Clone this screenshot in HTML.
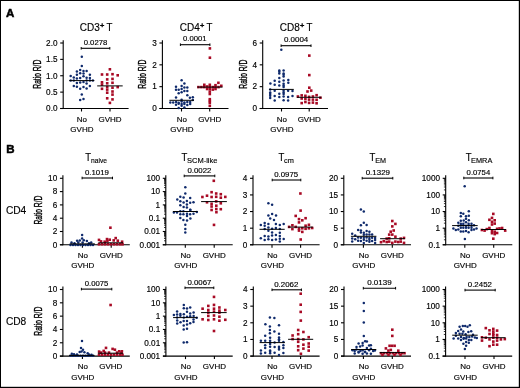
<!DOCTYPE html>
<html><head><meta charset="utf-8"><style>
html,body{margin:0;padding:0;background:#fff;}
#f{position:relative;width:520px;height:388px;overflow:hidden;}
svg{position:absolute;left:0;top:0;font-family:"Liberation Sans", sans-serif;will-change:transform;}
text{stroke:#000;stroke-width:0.15px;}
</style></head><body><div id="f">
<svg width="520" height="388" viewBox="0 0 520 388" fill="#000">
<rect x="0" y="0" width="520" height="388" fill="#fff"/>
<rect x="0" y="0" width="520" height="1" fill="#000"/>
<rect x="0" y="0" width="1" height="388" fill="#000"/>
<rect x="518.8" y="0" width="1.2" height="388" fill="#000"/>
<rect x="0" y="386.8" width="520" height="1.2" fill="#000"/>
<line x1="63.2" y1="40.2" x2="63.2" y2="109.0" stroke="#000" stroke-width="1.1"/>
<line x1="60.2" y1="108.5" x2="128.6" y2="108.5" stroke="#000" stroke-width="1.1"/>
<line x1="60.2" y1="108.5" x2="63.2" y2="108.5" stroke="#000" stroke-width="1.1"/>
<text x="57.5" y="111.32" font-size="8.2" text-anchor="end">0.0</text>
<line x1="60.2" y1="92.125" x2="63.2" y2="92.125" stroke="#000" stroke-width="1.1"/>
<text x="57.5" y="94.945" font-size="8.2" text-anchor="end">0.5</text>
<line x1="60.2" y1="75.75" x2="63.2" y2="75.75" stroke="#000" stroke-width="1.1"/>
<text x="57.5" y="78.57" font-size="8.2" text-anchor="end">1.0</text>
<line x1="60.2" y1="59.375" x2="63.2" y2="59.375" stroke="#000" stroke-width="1.1"/>
<text x="57.5" y="62.195" font-size="8.2" text-anchor="end">1.5</text>
<line x1="60.2" y1="43.0" x2="63.2" y2="43.0" stroke="#000" stroke-width="1.1"/>
<text x="57.5" y="45.82" font-size="8.2" text-anchor="end">2.0</text>
<line x1="81.5" y1="108.5" x2="81.5" y2="111.5" stroke="#000" stroke-width="1.1"/>
<line x1="110" y1="108.5" x2="110" y2="111.5" stroke="#000" stroke-width="1.1"/>
<text x="81.9" y="121.8" font-size="8" text-anchor="middle">No</text>
<text x="81.9" y="131.9" font-size="8" text-anchor="middle" textLength="23.1" lengthAdjust="spacingAndGlyphs">GVHD</text>
<text x="110" y="121.8" font-size="8" text-anchor="middle" textLength="23.1" lengthAdjust="spacingAndGlyphs">GVHD</text>
<line x1="81.2" y1="48.3" x2="109.8" y2="48.3" stroke="#000" stroke-width="1.1"/>
<line x1="81.2" y1="47.0" x2="81.2" y2="49.599999999999994" stroke="#000" stroke-width="1"/>
<line x1="109.8" y1="47.0" x2="109.8" y2="49.599999999999994" stroke="#000" stroke-width="1"/>
<text x="83.7" y="45.0" font-size="7.4" textLength="23.6" lengthAdjust="spacingAndGlyphs">0.0278</text>
<text x="79.8" y="30.5" font-size="10.0" textLength="20.0" lengthAdjust="spacingAndGlyphs">CD3</text><text x="100.1" y="28.1" font-size="7.4" style="stroke-width:0.45px">+</text><text x="106.4" y="30.5" font-size="10.3" textLength="5.9" lengthAdjust="spacingAndGlyphs">T</text>
<text transform="translate(40.5,74.2) rotate(-90)" font-size="10" text-anchor="middle" textLength="29" lengthAdjust="spacingAndGlyphs" style="stroke-width:0.35px">Ratio R/D</text>
<circle cx="81.8" cy="56.7" r="1.25" fill="#0f2a6c"/>
<circle cx="81.8" cy="66.1" r="1.25" fill="#0f2a6c"/>
<circle cx="80.2" cy="69.9" r="1.25" fill="#0f2a6c"/>
<circle cx="83.5" cy="70.9" r="1.25" fill="#0f2a6c"/>
<circle cx="86.6" cy="70.9" r="1.25" fill="#0f2a6c"/>
<circle cx="76.9" cy="71.6" r="1.25" fill="#0f2a6c"/>
<circle cx="80.2" cy="73.3" r="1.25" fill="#0f2a6c"/>
<circle cx="83.5" cy="73.6" r="1.25" fill="#0f2a6c"/>
<circle cx="76.9" cy="74.7" r="1.25" fill="#0f2a6c"/>
<circle cx="89.9" cy="74.7" r="1.25" fill="#0f2a6c"/>
<circle cx="70.7" cy="75.9" r="1.25" fill="#0f2a6c"/>
<circle cx="83.5" cy="76.3" r="1.25" fill="#0f2a6c"/>
<circle cx="73.8" cy="77.6" r="1.25" fill="#0f2a6c"/>
<circle cx="76.9" cy="78.6" r="1.25" fill="#0f2a6c"/>
<circle cx="80.2" cy="78" r="1.25" fill="#0f2a6c"/>
<circle cx="86.6" cy="77.8" r="1.25" fill="#0f2a6c"/>
<circle cx="89.9" cy="78" r="1.25" fill="#0f2a6c"/>
<circle cx="70.7" cy="80.5" r="1.25" fill="#0f2a6c"/>
<circle cx="73.8" cy="80.5" r="1.25" fill="#0f2a6c"/>
<circle cx="86.6" cy="80.5" r="1.25" fill="#0f2a6c"/>
<circle cx="89.9" cy="80.5" r="1.25" fill="#0f2a6c"/>
<circle cx="92.9" cy="80.5" r="1.25" fill="#0f2a6c"/>
<circle cx="76.9" cy="83" r="1.25" fill="#0f2a6c"/>
<circle cx="80.2" cy="82.6" r="1.25" fill="#0f2a6c"/>
<circle cx="83.5" cy="82" r="1.25" fill="#0f2a6c"/>
<circle cx="86.6" cy="83.6" r="1.25" fill="#0f2a6c"/>
<circle cx="73.8" cy="86" r="1.25" fill="#0f2a6c"/>
<circle cx="76.9" cy="86.7" r="1.25" fill="#0f2a6c"/>
<circle cx="80.2" cy="88.7" r="1.25" fill="#0f2a6c"/>
<circle cx="83.5" cy="87" r="1.25" fill="#0f2a6c"/>
<circle cx="86.6" cy="88.4" r="1.25" fill="#0f2a6c"/>
<circle cx="89.9" cy="86.1" r="1.25" fill="#0f2a6c"/>
<circle cx="81.8" cy="94.5" r="1.25" fill="#0f2a6c"/>
<circle cx="80.2" cy="99.9" r="1.25" fill="#0f2a6c"/>
<circle cx="83.5" cy="99" r="1.25" fill="#0f2a6c"/>
<rect x="108.60000000000001" y="68.0" width="2.6" height="2.6" fill="#a80a25"/>
<rect x="100.7" y="73.2" width="2.6" height="2.6" fill="#a80a25"/>
<rect x="105.9" y="73.2" width="2.6" height="2.6" fill="#a80a25"/>
<rect x="111.2" y="72.9" width="2.6" height="2.6" fill="#a80a25"/>
<rect x="116.4" y="74.0" width="2.6" height="2.6" fill="#a80a25"/>
<rect x="105.9" y="78.10000000000001" width="2.6" height="2.6" fill="#a80a25"/>
<rect x="111.2" y="77.60000000000001" width="2.6" height="2.6" fill="#a80a25"/>
<rect x="100.7" y="81.0" width="2.6" height="2.6" fill="#a80a25"/>
<rect x="105.9" y="82.0" width="2.6" height="2.6" fill="#a80a25"/>
<rect x="111.2" y="81.5" width="2.6" height="2.6" fill="#a80a25"/>
<rect x="100.7" y="83.3" width="2.6" height="2.6" fill="#a80a25"/>
<rect x="105.9" y="85.60000000000001" width="2.6" height="2.6" fill="#a80a25"/>
<rect x="111.2" y="86.4" width="2.6" height="2.6" fill="#a80a25"/>
<rect x="116.4" y="85.8" width="2.6" height="2.6" fill="#a80a25"/>
<rect x="100.7" y="87.5" width="2.6" height="2.6" fill="#a80a25"/>
<rect x="105.9" y="88.3" width="2.6" height="2.6" fill="#a80a25"/>
<rect x="105.9" y="91.4" width="2.6" height="2.6" fill="#a80a25"/>
<rect x="111.2" y="90.2" width="2.6" height="2.6" fill="#a80a25"/>
<rect x="111.2" y="93.3" width="2.6" height="2.6" fill="#a80a25"/>
<rect x="105.9" y="97.0" width="2.6" height="2.6" fill="#a80a25"/>
<rect x="111.2" y="98.10000000000001" width="2.6" height="2.6" fill="#a80a25"/>
<rect x="108.60000000000001" y="101.60000000000001" width="2.6" height="2.6" fill="#a80a25"/>
<line x1="69.2" y1="80.6" x2="94.3" y2="80.6" stroke="#000" stroke-width="1.0"/>
<line x1="97.2" y1="85.9" x2="122.7" y2="85.9" stroke="#000" stroke-width="1.0"/>
<line x1="162.4" y1="40.2" x2="162.4" y2="109.0" stroke="#000" stroke-width="1.1"/>
<line x1="159.4" y1="108.5" x2="228.5" y2="108.5" stroke="#000" stroke-width="1.1"/>
<line x1="159.4" y1="108.5" x2="162.4" y2="108.5" stroke="#000" stroke-width="1.1"/>
<text x="156.70000000000002" y="111.32" font-size="8.2" text-anchor="end">0</text>
<line x1="159.4" y1="86.66666666666667" x2="162.4" y2="86.66666666666667" stroke="#000" stroke-width="1.1"/>
<text x="156.70000000000002" y="89.48666666666666" font-size="8.2" text-anchor="end">1</text>
<line x1="159.4" y1="64.83333333333334" x2="162.4" y2="64.83333333333334" stroke="#000" stroke-width="1.1"/>
<text x="156.70000000000002" y="67.65333333333334" font-size="8.2" text-anchor="end">2</text>
<line x1="159.4" y1="43.0" x2="162.4" y2="43.0" stroke="#000" stroke-width="1.1"/>
<text x="156.70000000000002" y="45.82" font-size="8.2" text-anchor="end">3</text>
<line x1="181.5" y1="108.5" x2="181.5" y2="111.5" stroke="#000" stroke-width="1.1"/>
<line x1="209.7" y1="108.5" x2="209.7" y2="111.5" stroke="#000" stroke-width="1.1"/>
<text x="181.9" y="121.8" font-size="8" text-anchor="middle">No</text>
<text x="181.9" y="131.9" font-size="8" text-anchor="middle" textLength="23.1" lengthAdjust="spacingAndGlyphs">GVHD</text>
<text x="209.7" y="121.8" font-size="8" text-anchor="middle" textLength="23.1" lengthAdjust="spacingAndGlyphs">GVHD</text>
<line x1="180.4" y1="44.7" x2="209.9" y2="44.7" stroke="#000" stroke-width="1.1"/>
<line x1="180.4" y1="43.400000000000006" x2="180.4" y2="46.0" stroke="#000" stroke-width="1"/>
<line x1="209.9" y1="43.400000000000006" x2="209.9" y2="46.0" stroke="#000" stroke-width="1"/>
<text x="183.1" y="41.400000000000006" font-size="7.4" textLength="23.5" lengthAdjust="spacingAndGlyphs">0.0001</text>
<text x="179.8" y="30.5" font-size="10.0" textLength="20.0" lengthAdjust="spacingAndGlyphs">CD4</text><text x="200.1" y="28.1" font-size="7.4" style="stroke-width:0.45px">+</text><text x="206.4" y="30.5" font-size="10.3" textLength="5.9" lengthAdjust="spacingAndGlyphs">T</text>
<text transform="translate(146.1,74.2) rotate(-90)" font-size="10" text-anchor="middle" textLength="29" lengthAdjust="spacingAndGlyphs" style="stroke-width:0.35px">Ratio R/D</text>
<circle cx="181.6" cy="80.3" r="1.25" fill="#0f2a6c"/>
<circle cx="184.4" cy="83.5" r="1.25" fill="#0f2a6c"/>
<circle cx="176" cy="86.8" r="1.25" fill="#0f2a6c"/>
<circle cx="181.6" cy="86.1" r="1.25" fill="#0f2a6c"/>
<circle cx="184.4" cy="87.4" r="1.25" fill="#0f2a6c"/>
<circle cx="187.3" cy="87.5" r="1.25" fill="#0f2a6c"/>
<circle cx="176" cy="89.8" r="1.25" fill="#0f2a6c"/>
<circle cx="178.7" cy="89.8" r="1.25" fill="#0f2a6c"/>
<circle cx="181.6" cy="89" r="1.25" fill="#0f2a6c"/>
<circle cx="184.4" cy="91" r="1.25" fill="#0f2a6c"/>
<circle cx="187.3" cy="91" r="1.25" fill="#0f2a6c"/>
<circle cx="178.7" cy="93.3" r="1.25" fill="#0f2a6c"/>
<circle cx="181.6" cy="92.2" r="1.25" fill="#0f2a6c"/>
<circle cx="187.3" cy="95.3" r="1.25" fill="#0f2a6c"/>
<circle cx="176" cy="97.5" r="1.25" fill="#0f2a6c"/>
<circle cx="189.9" cy="97.8" r="1.25" fill="#0f2a6c"/>
<circle cx="192.8" cy="97.3" r="1.25" fill="#0f2a6c"/>
<circle cx="181.6" cy="99.8" r="1.25" fill="#0f2a6c"/>
<circle cx="192.8" cy="100" r="1.25" fill="#0f2a6c"/>
<circle cx="170.3" cy="102.4" r="1.25" fill="#0f2a6c"/>
<circle cx="173.2" cy="102.4" r="1.25" fill="#0f2a6c"/>
<circle cx="176.1" cy="102.1" r="1.25" fill="#0f2a6c"/>
<circle cx="178.7" cy="102.7" r="1.25" fill="#0f2a6c"/>
<circle cx="181.6" cy="101.5" r="1.25" fill="#0f2a6c"/>
<circle cx="184.4" cy="102.4" r="1.25" fill="#0f2a6c"/>
<circle cx="187.3" cy="102.1" r="1.25" fill="#0f2a6c"/>
<circle cx="190.2" cy="102.1" r="1.25" fill="#0f2a6c"/>
<circle cx="176" cy="104.7" r="1.25" fill="#0f2a6c"/>
<circle cx="178.7" cy="103.8" r="1.25" fill="#0f2a6c"/>
<circle cx="181.6" cy="104.1" r="1.25" fill="#0f2a6c"/>
<circle cx="184.4" cy="104.1" r="1.25" fill="#0f2a6c"/>
<circle cx="187.3" cy="105" r="1.25" fill="#0f2a6c"/>
<circle cx="190.2" cy="104.1" r="1.25" fill="#0f2a6c"/>
<circle cx="181.6" cy="105.8" r="1.25" fill="#0f2a6c"/>
<circle cx="178.7" cy="107.9" r="1.25" fill="#0f2a6c"/>
<circle cx="184.4" cy="107.6" r="1.25" fill="#0f2a6c"/>
<rect x="208.6" y="47.1" width="2.6" height="2.6" fill="#a80a25"/>
<rect x="208.6" y="56.400000000000006" width="2.6" height="2.6" fill="#a80a25"/>
<rect x="217.1" y="81.5" width="2.6" height="2.6" fill="#a80a25"/>
<rect x="203.0" y="83.5" width="2.6" height="2.6" fill="#a80a25"/>
<rect x="208.5" y="83.5" width="2.6" height="2.6" fill="#a80a25"/>
<rect x="214.2" y="83.9" width="2.6" height="2.6" fill="#a80a25"/>
<rect x="220.0" y="84.5" width="2.6" height="2.6" fill="#a80a25"/>
<rect x="197.1" y="85.8" width="2.6" height="2.6" fill="#a80a25"/>
<rect x="200.1" y="85.8" width="2.6" height="2.6" fill="#a80a25"/>
<rect x="203.0" y="85.8" width="2.6" height="2.6" fill="#a80a25"/>
<rect x="205.79999999999998" y="85.2" width="2.6" height="2.6" fill="#a80a25"/>
<rect x="208.5" y="85.8" width="2.6" height="2.6" fill="#a80a25"/>
<rect x="211.5" y="85.8" width="2.6" height="2.6" fill="#a80a25"/>
<rect x="214.2" y="85.8" width="2.6" height="2.6" fill="#a80a25"/>
<rect x="217.2" y="85.8" width="2.6" height="2.6" fill="#a80a25"/>
<rect x="205.79999999999998" y="87.7" width="2.6" height="2.6" fill="#a80a25"/>
<rect x="211.5" y="88.3" width="2.6" height="2.6" fill="#a80a25"/>
<rect x="214.2" y="87.7" width="2.6" height="2.6" fill="#a80a25"/>
<rect x="208.5" y="87.7" width="2.6" height="2.6" fill="#a80a25"/>
<rect x="208.5" y="90.3" width="2.6" height="2.6" fill="#a80a25"/>
<rect x="208.5" y="92.7" width="2.6" height="2.6" fill="#a80a25"/>
<rect x="208.5" y="97.9" width="2.6" height="2.6" fill="#a80a25"/>
<rect x="208.5" y="99.7" width="2.6" height="2.6" fill="#a80a25"/>
<rect x="208.5" y="101.4" width="2.6" height="2.6" fill="#a80a25"/>
<rect x="208.5" y="104.5" width="2.6" height="2.6" fill="#a80a25"/>
<line x1="169.4" y1="100.3" x2="194" y2="100.3" stroke="#000" stroke-width="1.0"/>
<line x1="197.5" y1="87.1" x2="222.5" y2="87.1" stroke="#000" stroke-width="1.0"/>
<line x1="262.7" y1="40.2" x2="262.7" y2="109.0" stroke="#000" stroke-width="1.1"/>
<line x1="259.7" y1="108.5" x2="328" y2="108.5" stroke="#000" stroke-width="1.1"/>
<line x1="259.7" y1="108.5" x2="262.7" y2="108.5" stroke="#000" stroke-width="1.1"/>
<text x="257.0" y="111.32" font-size="8.2" text-anchor="end">0</text>
<line x1="259.7" y1="86.66666666666667" x2="262.7" y2="86.66666666666667" stroke="#000" stroke-width="1.1"/>
<text x="257.0" y="89.48666666666666" font-size="8.2" text-anchor="end">2</text>
<line x1="259.7" y1="64.83333333333334" x2="262.7" y2="64.83333333333334" stroke="#000" stroke-width="1.1"/>
<text x="257.0" y="67.65333333333334" font-size="8.2" text-anchor="end">4</text>
<line x1="259.7" y1="43.0" x2="262.7" y2="43.0" stroke="#000" stroke-width="1.1"/>
<text x="257.0" y="45.82" font-size="8.2" text-anchor="end">6</text>
<line x1="281.5" y1="108.5" x2="281.5" y2="111.5" stroke="#000" stroke-width="1.1"/>
<line x1="309.2" y1="108.5" x2="309.2" y2="111.5" stroke="#000" stroke-width="1.1"/>
<text x="281.9" y="121.8" font-size="8" text-anchor="middle">No</text>
<text x="281.9" y="131.9" font-size="8" text-anchor="middle" textLength="23.1" lengthAdjust="spacingAndGlyphs">GVHD</text>
<text x="309.2" y="121.8" font-size="8" text-anchor="middle" textLength="23.1" lengthAdjust="spacingAndGlyphs">GVHD</text>
<line x1="281.1" y1="45.7" x2="311.0" y2="45.7" stroke="#000" stroke-width="1.1"/>
<line x1="281.1" y1="44.400000000000006" x2="281.1" y2="47.0" stroke="#000" stroke-width="1"/>
<line x1="311.0" y1="44.400000000000006" x2="311.0" y2="47.0" stroke="#000" stroke-width="1"/>
<text x="283.9" y="42.400000000000006" font-size="7.4" textLength="24.4" lengthAdjust="spacingAndGlyphs">0.0004</text>
<text x="279.8" y="30.5" font-size="10.0" textLength="20.0" lengthAdjust="spacingAndGlyphs">CD8</text><text x="300.1" y="28.1" font-size="7.4" style="stroke-width:0.45px">+</text><text x="306.4" y="30.5" font-size="10.3" textLength="5.9" lengthAdjust="spacingAndGlyphs">T</text>
<text transform="translate(246.6,74.2) rotate(-90)" font-size="10" text-anchor="middle" textLength="29" lengthAdjust="spacingAndGlyphs" style="stroke-width:0.35px">Ratio R/D</text>
<circle cx="281.3" cy="49.7" r="1.25" fill="#0f2a6c"/>
<circle cx="279.3" cy="70.4" r="1.25" fill="#0f2a6c"/>
<circle cx="279.3" cy="71.7" r="1.25" fill="#0f2a6c"/>
<circle cx="279.3" cy="73.4" r="1.25" fill="#0f2a6c"/>
<circle cx="283.6" cy="70.4" r="1.25" fill="#0f2a6c"/>
<circle cx="283.6" cy="73.4" r="1.25" fill="#0f2a6c"/>
<circle cx="283.6" cy="74.7" r="1.25" fill="#0f2a6c"/>
<circle cx="283.6" cy="76.4" r="1.25" fill="#0f2a6c"/>
<circle cx="279.3" cy="78.1" r="1.25" fill="#0f2a6c"/>
<circle cx="274.7" cy="80.7" r="1.25" fill="#0f2a6c"/>
<circle cx="279.3" cy="81.8" r="1.25" fill="#0f2a6c"/>
<circle cx="283.6" cy="80.4" r="1.25" fill="#0f2a6c"/>
<circle cx="288.3" cy="80.1" r="1.25" fill="#0f2a6c"/>
<circle cx="270.4" cy="83.4" r="1.25" fill="#0f2a6c"/>
<circle cx="274.7" cy="84.8" r="1.25" fill="#0f2a6c"/>
<circle cx="279.3" cy="85.4" r="1.25" fill="#0f2a6c"/>
<circle cx="283.6" cy="83.8" r="1.25" fill="#0f2a6c"/>
<circle cx="283.6" cy="85.4" r="1.25" fill="#0f2a6c"/>
<circle cx="283.6" cy="87.1" r="1.25" fill="#0f2a6c"/>
<circle cx="288.3" cy="82.8" r="1.25" fill="#0f2a6c"/>
<circle cx="270.2" cy="89.4" r="1.25" fill="#0f2a6c"/>
<circle cx="274.7" cy="90.7" r="1.25" fill="#0f2a6c"/>
<circle cx="283.6" cy="90.7" r="1.25" fill="#0f2a6c"/>
<circle cx="288.1" cy="90.7" r="1.25" fill="#0f2a6c"/>
<circle cx="292.5" cy="91" r="1.25" fill="#0f2a6c"/>
<circle cx="270.2" cy="92.4" r="1.25" fill="#0f2a6c"/>
<circle cx="270.2" cy="94.1" r="1.25" fill="#0f2a6c"/>
<circle cx="270.2" cy="95.7" r="1.25" fill="#0f2a6c"/>
<circle cx="270.2" cy="98.1" r="1.25" fill="#0f2a6c"/>
<circle cx="279.3" cy="93.7" r="1.25" fill="#0f2a6c"/>
<circle cx="283.6" cy="92.4" r="1.25" fill="#0f2a6c"/>
<circle cx="283.6" cy="94.1" r="1.25" fill="#0f2a6c"/>
<circle cx="274.7" cy="96.1" r="1.25" fill="#0f2a6c"/>
<circle cx="279.3" cy="97.1" r="1.25" fill="#0f2a6c"/>
<circle cx="283.6" cy="96.4" r="1.25" fill="#0f2a6c"/>
<circle cx="288.1" cy="97.1" r="1.25" fill="#0f2a6c"/>
<circle cx="292.5" cy="96.1" r="1.25" fill="#0f2a6c"/>
<circle cx="274.7" cy="100.6" r="1.25" fill="#0f2a6c"/>
<circle cx="283.6" cy="100.2" r="1.25" fill="#0f2a6c"/>
<circle cx="288.1" cy="100.4" r="1.25" fill="#0f2a6c"/>
<rect x="308.0" y="54.300000000000004" width="2.6" height="2.6" fill="#a80a25"/>
<rect x="308.0" y="73.8" width="2.6" height="2.6" fill="#a80a25"/>
<rect x="308.0" y="86.4" width="2.6" height="2.6" fill="#a80a25"/>
<rect x="306.2" y="90.2" width="2.6" height="2.6" fill="#a80a25"/>
<rect x="309.9" y="89.3" width="2.6" height="2.6" fill="#a80a25"/>
<rect x="296.59999999999997" y="95.2" width="2.6" height="2.6" fill="#a80a25"/>
<rect x="300.4" y="94.10000000000001" width="2.6" height="2.6" fill="#a80a25"/>
<rect x="300.4" y="97.2" width="2.6" height="2.6" fill="#a80a25"/>
<rect x="304.09999999999997" y="94.5" width="2.6" height="2.6" fill="#a80a25"/>
<rect x="304.09999999999997" y="97.60000000000001" width="2.6" height="2.6" fill="#a80a25"/>
<rect x="307.8" y="95.60000000000001" width="2.6" height="2.6" fill="#a80a25"/>
<rect x="307.8" y="98.3" width="2.6" height="2.6" fill="#a80a25"/>
<rect x="311.59999999999997" y="95.2" width="2.6" height="2.6" fill="#a80a25"/>
<rect x="311.59999999999997" y="98.3" width="2.6" height="2.6" fill="#a80a25"/>
<rect x="315.3" y="93.9" width="2.6" height="2.6" fill="#a80a25"/>
<rect x="315.3" y="98.5" width="2.6" height="2.6" fill="#a80a25"/>
<rect x="319.09999999999997" y="96.4" width="2.6" height="2.6" fill="#a80a25"/>
<rect x="300.4" y="101.8" width="2.6" height="2.6" fill="#a80a25"/>
<rect x="304.09999999999997" y="100.7" width="2.6" height="2.6" fill="#a80a25"/>
<rect x="307.8" y="101.60000000000001" width="2.6" height="2.6" fill="#a80a25"/>
<rect x="311.59999999999997" y="101.3" width="2.6" height="2.6" fill="#a80a25"/>
<rect x="315.3" y="102.0" width="2.6" height="2.6" fill="#a80a25"/>
<line x1="269.2" y1="89.4" x2="293.8" y2="89.4" stroke="#000" stroke-width="1.0"/>
<line x1="296.9" y1="97.3" x2="321.4" y2="97.3" stroke="#000" stroke-width="1.0"/>
<line x1="62.9" y1="175.3" x2="62.9" y2="245.3" stroke="#000" stroke-width="1.1"/>
<line x1="59.9" y1="244.8" x2="129.8" y2="244.8" stroke="#000" stroke-width="1.1"/>
<line x1="59.9" y1="244.8" x2="62.9" y2="244.8" stroke="#000" stroke-width="1.1"/>
<text x="57.199999999999996" y="247.62" font-size="8.2" text-anchor="end">0</text>
<line x1="59.9" y1="231.5" x2="62.9" y2="231.5" stroke="#000" stroke-width="1.1"/>
<text x="57.199999999999996" y="234.32" font-size="8.2" text-anchor="end">2</text>
<line x1="59.9" y1="218.20000000000002" x2="62.9" y2="218.20000000000002" stroke="#000" stroke-width="1.1"/>
<text x="57.199999999999996" y="221.02" font-size="8.2" text-anchor="end">4</text>
<line x1="59.9" y1="204.9" x2="62.9" y2="204.9" stroke="#000" stroke-width="1.1"/>
<text x="57.199999999999996" y="207.72" font-size="8.2" text-anchor="end">6</text>
<line x1="59.9" y1="191.60000000000002" x2="62.9" y2="191.60000000000002" stroke="#000" stroke-width="1.1"/>
<text x="57.199999999999996" y="194.42000000000002" font-size="8.2" text-anchor="end">8</text>
<line x1="59.9" y1="178.3" x2="62.9" y2="178.3" stroke="#000" stroke-width="1.1"/>
<text x="57.199999999999996" y="181.12" font-size="8.2" text-anchor="end">10</text>
<line x1="82.4" y1="244.8" x2="82.4" y2="247.8" stroke="#000" stroke-width="1.1"/>
<line x1="111.2" y1="244.8" x2="111.2" y2="247.8" stroke="#000" stroke-width="1.1"/>
<text x="82.80000000000001" y="258.1" font-size="8" text-anchor="middle">No</text>
<text x="82.80000000000001" y="268.2" font-size="8" text-anchor="middle" textLength="23.1" lengthAdjust="spacingAndGlyphs">GVHD</text>
<text x="111.2" y="258.1" font-size="8" text-anchor="middle" textLength="23.1" lengthAdjust="spacingAndGlyphs">GVHD</text>
<line x1="82.1" y1="178.0" x2="112.5" y2="178.0" stroke="#000" stroke-width="1.1"/>
<line x1="82.1" y1="176.7" x2="82.1" y2="179.3" stroke="#000" stroke-width="1"/>
<line x1="112.5" y1="176.7" x2="112.5" y2="179.3" stroke="#000" stroke-width="1"/>
<text x="84.9" y="174.7" font-size="7.4" textLength="24.0" lengthAdjust="spacingAndGlyphs">0.1019</text>
<text x="85.2" y="160.7" font-size="10.0" textLength="5.8" lengthAdjust="spacingAndGlyphs">T</text><text x="91.0" y="162.7" font-size="7.6" textLength="16.0" lengthAdjust="spacingAndGlyphs">naive</text>
<text transform="translate(42.4,210.1) rotate(-90)" font-size="10" text-anchor="middle" textLength="29" lengthAdjust="spacingAndGlyphs" style="stroke-width:0.35px">Ratio R/D</text>
<circle cx="82.1" cy="234.9" r="1.25" fill="#0f2a6c"/>
<circle cx="82.1" cy="238.6" r="1.25" fill="#0f2a6c"/>
<circle cx="77.1" cy="240.8" r="1.25" fill="#0f2a6c"/>
<circle cx="79.8" cy="240.5" r="1.25" fill="#0f2a6c"/>
<circle cx="83.8" cy="240.2" r="1.25" fill="#0f2a6c"/>
<circle cx="86.9" cy="241.1" r="1.25" fill="#0f2a6c"/>
<circle cx="91.2" cy="242.6" r="1.25" fill="#0f2a6c"/>
<circle cx="71.5" cy="242.6" r="1.25" fill="#0f2a6c"/>
<circle cx="74.5" cy="243.2" r="1.25" fill="#0f2a6c"/>
<circle cx="78.3" cy="242.5" r="1.25" fill="#0f2a6c"/>
<circle cx="82.6" cy="242.5" r="1.25" fill="#0f2a6c"/>
<circle cx="89" cy="243.2" r="1.25" fill="#0f2a6c"/>
<circle cx="70.5" cy="245.0" r="1.25" fill="#0f2a6c"/>
<circle cx="73" cy="245.0" r="1.25" fill="#0f2a6c"/>
<circle cx="75.5" cy="245.0" r="1.25" fill="#0f2a6c"/>
<circle cx="78" cy="245.0" r="1.25" fill="#0f2a6c"/>
<circle cx="80.5" cy="245.0" r="1.25" fill="#0f2a6c"/>
<circle cx="83" cy="245.0" r="1.25" fill="#0f2a6c"/>
<circle cx="85.5" cy="245.0" r="1.25" fill="#0f2a6c"/>
<circle cx="88" cy="245.0" r="1.25" fill="#0f2a6c"/>
<circle cx="90.5" cy="245.0" r="1.25" fill="#0f2a6c"/>
<circle cx="93" cy="245.0" r="1.25" fill="#0f2a6c"/>
<rect x="109.10000000000001" y="226.39999999999998" width="2.6" height="2.6" fill="#a80a25"/>
<rect x="97.7" y="238.6" width="2.6" height="2.6" fill="#a80a25"/>
<rect x="105.7" y="237.79999999999998" width="2.6" height="2.6" fill="#a80a25"/>
<rect x="108.4" y="238.39999999999998" width="2.6" height="2.6" fill="#a80a25"/>
<rect x="112.4" y="239.1" width="2.6" height="2.6" fill="#a80a25"/>
<rect x="114.4" y="236.79999999999998" width="2.6" height="2.6" fill="#a80a25"/>
<rect x="116.5" y="239.39999999999998" width="2.6" height="2.6" fill="#a80a25"/>
<rect x="120.8" y="240.39999999999998" width="2.6" height="2.6" fill="#a80a25"/>
<rect x="99.7" y="240.1" width="2.6" height="2.6" fill="#a80a25"/>
<rect x="103.4" y="240.39999999999998" width="2.6" height="2.6" fill="#a80a25"/>
<rect x="106.10000000000001" y="239.79999999999998" width="2.6" height="2.6" fill="#a80a25"/>
<rect x="97.7" y="243.0" width="2.6" height="2.6" fill="#a80a25"/>
<rect x="100.7" y="243.0" width="2.6" height="2.6" fill="#a80a25"/>
<rect x="103.7" y="243.0" width="2.6" height="2.6" fill="#a80a25"/>
<rect x="106.7" y="243.0" width="2.6" height="2.6" fill="#a80a25"/>
<rect x="109.7" y="243.0" width="2.6" height="2.6" fill="#a80a25"/>
<rect x="112.7" y="243.0" width="2.6" height="2.6" fill="#a80a25"/>
<rect x="115.7" y="243.0" width="2.6" height="2.6" fill="#a80a25"/>
<rect x="118.7" y="243.0" width="2.6" height="2.6" fill="#a80a25"/>
<rect x="121.2" y="243.0" width="2.6" height="2.6" fill="#a80a25"/>
<line x1="69.7" y1="243.9" x2="94.9" y2="243.9" stroke="#000" stroke-width="1.0"/>
<line x1="98.3" y1="242.8" x2="123.1" y2="242.8" stroke="#000" stroke-width="1.0"/>
<line x1="165.8" y1="175.3" x2="165.8" y2="245.3" stroke="#000" stroke-width="1.1"/>
<line x1="162.8" y1="244.8" x2="232.7" y2="244.8" stroke="#000" stroke-width="1.1"/>
<line x1="162.8" y1="244.8" x2="165.8" y2="244.8" stroke="#000" stroke-width="1.1"/>
<text x="160.10000000000002" y="247.62" font-size="8.2" text-anchor="end">0.001</text>
<line x1="162.8" y1="231.5" x2="165.8" y2="231.5" stroke="#000" stroke-width="1.1"/>
<text x="160.10000000000002" y="234.32" font-size="8.2" text-anchor="end">0.01</text>
<line x1="162.8" y1="218.20000000000002" x2="165.8" y2="218.20000000000002" stroke="#000" stroke-width="1.1"/>
<text x="160.10000000000002" y="221.02" font-size="8.2" text-anchor="end">0.1</text>
<line x1="162.8" y1="204.9" x2="165.8" y2="204.9" stroke="#000" stroke-width="1.1"/>
<text x="160.10000000000002" y="207.72" font-size="8.2" text-anchor="end">1</text>
<line x1="162.8" y1="191.60000000000002" x2="165.8" y2="191.60000000000002" stroke="#000" stroke-width="1.1"/>
<text x="160.10000000000002" y="194.42000000000002" font-size="8.2" text-anchor="end">10</text>
<line x1="162.8" y1="178.3" x2="165.8" y2="178.3" stroke="#000" stroke-width="1.1"/>
<text x="160.10000000000002" y="181.12" font-size="8.2" text-anchor="end">100</text>
<line x1="164.0" y1="240.79630105766907" x2="165.8" y2="240.79630105766907" stroke="#000" stroke-width="0.8"/>
<line x1="164.0" y1="238.4542873122285" x2="165.8" y2="238.4542873122285" stroke="#000" stroke-width="0.8"/>
<line x1="164.0" y1="236.7926021153381" x2="165.8" y2="236.7926021153381" stroke="#000" stroke-width="0.8"/>
<line x1="164.0" y1="235.50369894233097" x2="165.8" y2="235.50369894233097" stroke="#000" stroke-width="0.8"/>
<line x1="164.0" y1="234.45058836989756" x2="165.8" y2="234.45058836989756" stroke="#000" stroke-width="0.8"/>
<line x1="164.0" y1="233.5601960678104" x2="165.8" y2="233.5601960678104" stroke="#000" stroke-width="0.8"/>
<line x1="164.0" y1="232.78890317300716" x2="165.8" y2="232.78890317300716" stroke="#000" stroke-width="0.8"/>
<line x1="164.0" y1="232.108574624457" x2="165.8" y2="232.108574624457" stroke="#000" stroke-width="0.8"/>
<line x1="164.0" y1="227.49630105766906" x2="165.8" y2="227.49630105766906" stroke="#000" stroke-width="0.8"/>
<line x1="164.0" y1="225.1542873122285" x2="165.8" y2="225.1542873122285" stroke="#000" stroke-width="0.8"/>
<line x1="164.0" y1="223.4926021153381" x2="165.8" y2="223.4926021153381" stroke="#000" stroke-width="0.8"/>
<line x1="164.0" y1="222.20369894233096" x2="165.8" y2="222.20369894233096" stroke="#000" stroke-width="0.8"/>
<line x1="164.0" y1="221.15058836989755" x2="165.8" y2="221.15058836989755" stroke="#000" stroke-width="0.8"/>
<line x1="164.0" y1="220.2601960678104" x2="165.8" y2="220.2601960678104" stroke="#000" stroke-width="0.8"/>
<line x1="164.0" y1="219.48890317300715" x2="165.8" y2="219.48890317300715" stroke="#000" stroke-width="0.8"/>
<line x1="164.0" y1="218.80857462445698" x2="165.8" y2="218.80857462445698" stroke="#000" stroke-width="0.8"/>
<line x1="164.0" y1="214.19630105766907" x2="165.8" y2="214.19630105766907" stroke="#000" stroke-width="0.8"/>
<line x1="164.0" y1="211.8542873122285" x2="165.8" y2="211.8542873122285" stroke="#000" stroke-width="0.8"/>
<line x1="164.0" y1="210.1926021153381" x2="165.8" y2="210.1926021153381" stroke="#000" stroke-width="0.8"/>
<line x1="164.0" y1="208.90369894233098" x2="165.8" y2="208.90369894233098" stroke="#000" stroke-width="0.8"/>
<line x1="164.0" y1="207.85058836989757" x2="165.8" y2="207.85058836989757" stroke="#000" stroke-width="0.8"/>
<line x1="164.0" y1="206.9601960678104" x2="165.8" y2="206.9601960678104" stroke="#000" stroke-width="0.8"/>
<line x1="164.0" y1="206.18890317300716" x2="165.8" y2="206.18890317300716" stroke="#000" stroke-width="0.8"/>
<line x1="164.0" y1="205.508574624457" x2="165.8" y2="205.508574624457" stroke="#000" stroke-width="0.8"/>
<line x1="164.0" y1="200.89630105766906" x2="165.8" y2="200.89630105766906" stroke="#000" stroke-width="0.8"/>
<line x1="164.0" y1="198.5542873122285" x2="165.8" y2="198.5542873122285" stroke="#000" stroke-width="0.8"/>
<line x1="164.0" y1="196.8926021153381" x2="165.8" y2="196.8926021153381" stroke="#000" stroke-width="0.8"/>
<line x1="164.0" y1="195.60369894233096" x2="165.8" y2="195.60369894233096" stroke="#000" stroke-width="0.8"/>
<line x1="164.0" y1="194.55058836989755" x2="165.8" y2="194.55058836989755" stroke="#000" stroke-width="0.8"/>
<line x1="164.0" y1="193.66019606781038" x2="165.8" y2="193.66019606781038" stroke="#000" stroke-width="0.8"/>
<line x1="164.0" y1="192.88890317300715" x2="165.8" y2="192.88890317300715" stroke="#000" stroke-width="0.8"/>
<line x1="164.0" y1="192.208574624457" x2="165.8" y2="192.208574624457" stroke="#000" stroke-width="0.8"/>
<line x1="164.0" y1="187.59630105766908" x2="165.8" y2="187.59630105766908" stroke="#000" stroke-width="0.8"/>
<line x1="164.0" y1="185.2542873122285" x2="165.8" y2="185.2542873122285" stroke="#000" stroke-width="0.8"/>
<line x1="164.0" y1="183.5926021153381" x2="165.8" y2="183.5926021153381" stroke="#000" stroke-width="0.8"/>
<line x1="164.0" y1="182.30369894233098" x2="165.8" y2="182.30369894233098" stroke="#000" stroke-width="0.8"/>
<line x1="164.0" y1="181.25058836989757" x2="165.8" y2="181.25058836989757" stroke="#000" stroke-width="0.8"/>
<line x1="164.0" y1="180.36019606781042" x2="165.8" y2="180.36019606781042" stroke="#000" stroke-width="0.8"/>
<line x1="164.0" y1="179.58890317300717" x2="165.8" y2="179.58890317300717" stroke="#000" stroke-width="0.8"/>
<line x1="164.0" y1="178.908574624457" x2="165.8" y2="178.908574624457" stroke="#000" stroke-width="0.8"/>
<line x1="185.3" y1="244.8" x2="185.3" y2="247.8" stroke="#000" stroke-width="1.1"/>
<line x1="214.2" y1="244.8" x2="214.2" y2="247.8" stroke="#000" stroke-width="1.1"/>
<text x="185.70000000000002" y="258.1" font-size="8" text-anchor="middle">No</text>
<text x="185.70000000000002" y="268.2" font-size="8" text-anchor="middle" textLength="23.1" lengthAdjust="spacingAndGlyphs">GVHD</text>
<text x="214.2" y="258.1" font-size="8" text-anchor="middle" textLength="23.1" lengthAdjust="spacingAndGlyphs">GVHD</text>
<line x1="184.2" y1="175.9" x2="214.8" y2="175.9" stroke="#000" stroke-width="1.1"/>
<line x1="184.2" y1="174.6" x2="184.2" y2="177.20000000000002" stroke="#000" stroke-width="1"/>
<line x1="214.8" y1="174.6" x2="214.8" y2="177.20000000000002" stroke="#000" stroke-width="1"/>
<text x="187.39999999999998" y="172.6" font-size="7.4" textLength="24.0" lengthAdjust="spacingAndGlyphs">0.0022</text>
<text x="181.5" y="160.7" font-size="10.0" textLength="5.8" lengthAdjust="spacingAndGlyphs">T</text><text x="187.0" y="162.7" font-size="7.6" textLength="30.4" lengthAdjust="spacingAndGlyphs">SCM-like</text>
<circle cx="185.3" cy="187.3" r="1.25" fill="#0f2a6c"/>
<circle cx="185.3" cy="193.4" r="1.25" fill="#0f2a6c"/>
<circle cx="180.3" cy="196.7" r="1.25" fill="#0f2a6c"/>
<circle cx="183.6" cy="197.5" r="1.25" fill="#0f2a6c"/>
<circle cx="190.2" cy="198.1" r="1.25" fill="#0f2a6c"/>
<circle cx="177.3" cy="199.5" r="1.25" fill="#0f2a6c"/>
<circle cx="180.3" cy="201.2" r="1.25" fill="#0f2a6c"/>
<circle cx="186.9" cy="201" r="1.25" fill="#0f2a6c"/>
<circle cx="183.6" cy="202.4" r="1.25" fill="#0f2a6c"/>
<circle cx="190.2" cy="202.7" r="1.25" fill="#0f2a6c"/>
<circle cx="193.5" cy="202.3" r="1.25" fill="#0f2a6c"/>
<circle cx="180.3" cy="205.2" r="1.25" fill="#0f2a6c"/>
<circle cx="186.9" cy="204.6" r="1.25" fill="#0f2a6c"/>
<circle cx="183.6" cy="207.1" r="1.25" fill="#0f2a6c"/>
<circle cx="186.9" cy="207.6" r="1.25" fill="#0f2a6c"/>
<circle cx="190.2" cy="209.7" r="1.25" fill="#0f2a6c"/>
<circle cx="173.9" cy="212.5" r="1.25" fill="#0f2a6c"/>
<circle cx="177" cy="212.5" r="1.25" fill="#0f2a6c"/>
<circle cx="180.3" cy="211.2" r="1.25" fill="#0f2a6c"/>
<circle cx="183.4" cy="211.2" r="1.25" fill="#0f2a6c"/>
<circle cx="190.4" cy="210" r="1.25" fill="#0f2a6c"/>
<circle cx="196.8" cy="212" r="1.25" fill="#0f2a6c"/>
<circle cx="180.3" cy="214.3" r="1.25" fill="#0f2a6c"/>
<circle cx="183.4" cy="214.3" r="1.25" fill="#0f2a6c"/>
<circle cx="187" cy="213.8" r="1.25" fill="#0f2a6c"/>
<circle cx="190.1" cy="214.3" r="1.25" fill="#0f2a6c"/>
<circle cx="193.5" cy="213.8" r="1.25" fill="#0f2a6c"/>
<circle cx="187" cy="215.9" r="1.25" fill="#0f2a6c"/>
<circle cx="180.3" cy="217.9" r="1.25" fill="#0f2a6c"/>
<circle cx="183.4" cy="220" r="1.25" fill="#0f2a6c"/>
<circle cx="187" cy="220.5" r="1.25" fill="#0f2a6c"/>
<circle cx="190.4" cy="218.4" r="1.25" fill="#0f2a6c"/>
<circle cx="185.3" cy="224.8" r="1.25" fill="#0f2a6c"/>
<circle cx="185.3" cy="229" r="1.25" fill="#0f2a6c"/>
<circle cx="185.3" cy="232.4" r="1.25" fill="#0f2a6c"/>
<rect x="212.5" y="179.5" width="2.6" height="2.6" fill="#a80a25"/>
<rect x="210.29999999999998" y="190.89999999999998" width="2.6" height="2.6" fill="#a80a25"/>
<rect x="214.89999999999998" y="192.2" width="2.6" height="2.6" fill="#a80a25"/>
<rect x="219.5" y="192.89999999999998" width="2.6" height="2.6" fill="#a80a25"/>
<rect x="201.1" y="195.7" width="2.6" height="2.6" fill="#a80a25"/>
<rect x="205.7" y="194.39999999999998" width="2.6" height="2.6" fill="#a80a25"/>
<rect x="210.29999999999998" y="195.7" width="2.6" height="2.6" fill="#a80a25"/>
<rect x="214.89999999999998" y="195.5" width="2.6" height="2.6" fill="#a80a25"/>
<rect x="219.5" y="196.39999999999998" width="2.6" height="2.6" fill="#a80a25"/>
<rect x="224.0" y="195.6" width="2.6" height="2.6" fill="#a80a25"/>
<rect x="205.7" y="201.0" width="2.6" height="2.6" fill="#a80a25"/>
<rect x="210.29999999999998" y="202.5" width="2.6" height="2.6" fill="#a80a25"/>
<rect x="214.89999999999998" y="200.1" width="2.6" height="2.6" fill="#a80a25"/>
<rect x="219.5" y="202.0" width="2.6" height="2.6" fill="#a80a25"/>
<rect x="210.29999999999998" y="205.2" width="2.6" height="2.6" fill="#a80a25"/>
<rect x="215.0" y="204.39999999999998" width="2.6" height="2.6" fill="#a80a25"/>
<rect x="210.29999999999998" y="208.7" width="2.6" height="2.6" fill="#a80a25"/>
<rect x="215.0" y="207.7" width="2.6" height="2.6" fill="#a80a25"/>
<rect x="219.5" y="207.89999999999998" width="2.6" height="2.6" fill="#a80a25"/>
<rect x="215.1" y="210.89999999999998" width="2.6" height="2.6" fill="#a80a25"/>
<rect x="212.7" y="223.6" width="2.6" height="2.6" fill="#a80a25"/>
<line x1="172.9" y1="211.5" x2="197.6" y2="211.5" stroke="#000" stroke-width="1.0"/>
<line x1="201.1" y1="201.6" x2="226.9" y2="201.6" stroke="#000" stroke-width="1.0"/>
<line x1="253" y1="175.3" x2="253" y2="245.3" stroke="#000" stroke-width="1.1"/>
<line x1="250" y1="244.8" x2="319.6" y2="244.8" stroke="#000" stroke-width="1.1"/>
<line x1="250" y1="244.8" x2="253" y2="244.8" stroke="#000" stroke-width="1.1"/>
<text x="247.3" y="247.62" font-size="8.2" text-anchor="end">0</text>
<line x1="250" y1="228.175" x2="253" y2="228.175" stroke="#000" stroke-width="1.1"/>
<text x="247.3" y="230.995" font-size="8.2" text-anchor="end">1</text>
<line x1="250" y1="211.55" x2="253" y2="211.55" stroke="#000" stroke-width="1.1"/>
<text x="247.3" y="214.37" font-size="8.2" text-anchor="end">2</text>
<line x1="250" y1="194.925" x2="253" y2="194.925" stroke="#000" stroke-width="1.1"/>
<text x="247.3" y="197.745" font-size="8.2" text-anchor="end">3</text>
<line x1="250" y1="178.3" x2="253" y2="178.3" stroke="#000" stroke-width="1.1"/>
<text x="247.3" y="181.12" font-size="8.2" text-anchor="end">4</text>
<line x1="272" y1="244.8" x2="272" y2="247.8" stroke="#000" stroke-width="1.1"/>
<line x1="300.6" y1="244.8" x2="300.6" y2="247.8" stroke="#000" stroke-width="1.1"/>
<text x="272.4" y="258.1" font-size="8" text-anchor="middle">No</text>
<text x="272.4" y="268.2" font-size="8" text-anchor="middle" textLength="23.1" lengthAdjust="spacingAndGlyphs">GVHD</text>
<text x="300.6" y="258.1" font-size="8" text-anchor="middle" textLength="23.1" lengthAdjust="spacingAndGlyphs">GVHD</text>
<line x1="272.2" y1="180.0" x2="300.8" y2="180.0" stroke="#000" stroke-width="1.1"/>
<line x1="272.2" y1="178.7" x2="272.2" y2="181.3" stroke="#000" stroke-width="1"/>
<line x1="300.8" y1="178.7" x2="300.8" y2="181.3" stroke="#000" stroke-width="1"/>
<text x="274.2" y="176.7" font-size="7.4" textLength="23.9" lengthAdjust="spacingAndGlyphs">0.0975</text>
<text x="278.59999999999997" y="160.7" font-size="10.0" textLength="5.8" lengthAdjust="spacingAndGlyphs">T</text><text x="284.0" y="162.7" font-size="7.6" textLength="9.8" lengthAdjust="spacingAndGlyphs">cm</text>
<circle cx="268.4" cy="203.2" r="1.25" fill="#0f2a6c"/>
<circle cx="272.1" cy="204.8" r="1.25" fill="#0f2a6c"/>
<circle cx="272.1" cy="214" r="1.25" fill="#0f2a6c"/>
<circle cx="268.4" cy="215.6" r="1.25" fill="#0f2a6c"/>
<circle cx="276" cy="215.4" r="1.25" fill="#0f2a6c"/>
<circle cx="270.2" cy="218.5" r="1.25" fill="#0f2a6c"/>
<circle cx="274" cy="220" r="1.25" fill="#0f2a6c"/>
<circle cx="260.8" cy="224.9" r="1.25" fill="#0f2a6c"/>
<circle cx="264.7" cy="223" r="1.25" fill="#0f2a6c"/>
<circle cx="264.7" cy="225.7" r="1.25" fill="#0f2a6c"/>
<circle cx="268.4" cy="223.9" r="1.25" fill="#0f2a6c"/>
<circle cx="275.9" cy="223.9" r="1.25" fill="#0f2a6c"/>
<circle cx="279.8" cy="224.9" r="1.25" fill="#0f2a6c"/>
<circle cx="283.7" cy="223.9" r="1.25" fill="#0f2a6c"/>
<circle cx="264.7" cy="229.1" r="1.25" fill="#0f2a6c"/>
<circle cx="268.4" cy="227.6" r="1.25" fill="#0f2a6c"/>
<circle cx="268.4" cy="230.7" r="1.25" fill="#0f2a6c"/>
<circle cx="272.1" cy="228.8" r="1.25" fill="#0f2a6c"/>
<circle cx="275.9" cy="228" r="1.25" fill="#0f2a6c"/>
<circle cx="279.8" cy="229.1" r="1.25" fill="#0f2a6c"/>
<circle cx="272.1" cy="232.6" r="1.25" fill="#0f2a6c"/>
<circle cx="279.8" cy="232.8" r="1.25" fill="#0f2a6c"/>
<circle cx="264.7" cy="236.1" r="1.25" fill="#0f2a6c"/>
<circle cx="268.4" cy="236.5" r="1.25" fill="#0f2a6c"/>
<circle cx="272.1" cy="235.5" r="1.25" fill="#0f2a6c"/>
<circle cx="275.9" cy="234.9" r="1.25" fill="#0f2a6c"/>
<circle cx="279.8" cy="235.9" r="1.25" fill="#0f2a6c"/>
<circle cx="260.8" cy="238.3" r="1.25" fill="#0f2a6c"/>
<circle cx="264.7" cy="240.1" r="1.25" fill="#0f2a6c"/>
<circle cx="268.4" cy="239.2" r="1.25" fill="#0f2a6c"/>
<circle cx="272.1" cy="240.1" r="1.25" fill="#0f2a6c"/>
<circle cx="275.9" cy="239.6" r="1.25" fill="#0f2a6c"/>
<circle cx="279.8" cy="238.8" r="1.25" fill="#0f2a6c"/>
<circle cx="279.8" cy="241.5" r="1.25" fill="#0f2a6c"/>
<circle cx="283.7" cy="239" r="1.25" fill="#0f2a6c"/>
<rect x="299.09999999999997" y="192.2" width="2.6" height="2.6" fill="#a80a25"/>
<rect x="299.3" y="209.29999999999998" width="2.6" height="2.6" fill="#a80a25"/>
<rect x="294.4" y="214.6" width="2.6" height="2.6" fill="#a80a25"/>
<rect x="297.7" y="217.79999999999998" width="2.6" height="2.6" fill="#a80a25"/>
<rect x="301.0" y="219.0" width="2.6" height="2.6" fill="#a80a25"/>
<rect x="304.3" y="216.89999999999998" width="2.6" height="2.6" fill="#a80a25"/>
<rect x="297.7" y="221.1" width="2.6" height="2.6" fill="#a80a25"/>
<rect x="287.8" y="225.6" width="2.6" height="2.6" fill="#a80a25"/>
<rect x="291.09999999999997" y="224.0" width="2.6" height="2.6" fill="#a80a25"/>
<rect x="291.09999999999997" y="227.79999999999998" width="2.6" height="2.6" fill="#a80a25"/>
<rect x="294.4" y="225.6" width="2.6" height="2.6" fill="#a80a25"/>
<rect x="297.7" y="227.29999999999998" width="2.6" height="2.6" fill="#a80a25"/>
<rect x="297.7" y="229.29999999999998" width="2.6" height="2.6" fill="#a80a25"/>
<rect x="301.0" y="227.0" width="2.6" height="2.6" fill="#a80a25"/>
<rect x="301.0" y="230.6" width="2.6" height="2.6" fill="#a80a25"/>
<rect x="304.3" y="224.39999999999998" width="2.6" height="2.6" fill="#a80a25"/>
<rect x="304.3" y="227.5" width="2.6" height="2.6" fill="#a80a25"/>
<rect x="307.59999999999997" y="223.5" width="2.6" height="2.6" fill="#a80a25"/>
<rect x="307.59999999999997" y="227.0" width="2.6" height="2.6" fill="#a80a25"/>
<rect x="310.9" y="226.7" width="2.6" height="2.6" fill="#a80a25"/>
<rect x="299.4" y="238.2" width="2.6" height="2.6" fill="#a80a25"/>
<line x1="259.5" y1="229.3" x2="284.7" y2="229.3" stroke="#000" stroke-width="1.0"/>
<line x1="288.1" y1="227.1" x2="312.8" y2="227.1" stroke="#000" stroke-width="1.0"/>
<line x1="343.8" y1="175.3" x2="343.8" y2="245.3" stroke="#000" stroke-width="1.1"/>
<line x1="340.8" y1="244.8" x2="411" y2="244.8" stroke="#000" stroke-width="1.1"/>
<line x1="340.8" y1="244.8" x2="343.8" y2="244.8" stroke="#000" stroke-width="1.1"/>
<text x="338.1" y="247.62" font-size="8.2" text-anchor="end">0</text>
<line x1="340.8" y1="228.175" x2="343.8" y2="228.175" stroke="#000" stroke-width="1.1"/>
<text x="338.1" y="230.995" font-size="8.2" text-anchor="end">5</text>
<line x1="340.8" y1="211.55" x2="343.8" y2="211.55" stroke="#000" stroke-width="1.1"/>
<text x="338.1" y="214.37" font-size="8.2" text-anchor="end">10</text>
<line x1="340.8" y1="194.925" x2="343.8" y2="194.925" stroke="#000" stroke-width="1.1"/>
<text x="338.1" y="197.745" font-size="8.2" text-anchor="end">15</text>
<line x1="340.8" y1="178.3" x2="343.8" y2="178.3" stroke="#000" stroke-width="1.1"/>
<text x="338.1" y="181.12" font-size="8.2" text-anchor="end">20</text>
<line x1="363.4" y1="244.8" x2="363.4" y2="247.8" stroke="#000" stroke-width="1.1"/>
<line x1="392.3" y1="244.8" x2="392.3" y2="247.8" stroke="#000" stroke-width="1.1"/>
<text x="363.79999999999995" y="258.1" font-size="8" text-anchor="middle">No</text>
<text x="363.79999999999995" y="268.2" font-size="8" text-anchor="middle" textLength="23.1" lengthAdjust="spacingAndGlyphs">GVHD</text>
<text x="392.3" y="258.1" font-size="8" text-anchor="middle" textLength="23.1" lengthAdjust="spacingAndGlyphs">GVHD</text>
<line x1="362.2" y1="178.2" x2="392.8" y2="178.2" stroke="#000" stroke-width="1.1"/>
<line x1="362.2" y1="176.89999999999998" x2="362.2" y2="179.5" stroke="#000" stroke-width="1"/>
<line x1="392.8" y1="176.89999999999998" x2="392.8" y2="179.5" stroke="#000" stroke-width="1"/>
<text x="365.7" y="174.89999999999998" font-size="7.4" textLength="24.3" lengthAdjust="spacingAndGlyphs">0.1329</text>
<text x="369.59999999999997" y="160.7" font-size="10.0" textLength="5.8" lengthAdjust="spacingAndGlyphs">T</text><text x="375.2" y="162.7" font-size="7.6" textLength="10.8" lengthAdjust="spacingAndGlyphs">EM</text>
<circle cx="360.9" cy="209.4" r="1.25" fill="#0f2a6c"/>
<circle cx="363.8" cy="211.5" r="1.25" fill="#0f2a6c"/>
<circle cx="363.8" cy="222.8" r="1.25" fill="#0f2a6c"/>
<circle cx="360.9" cy="225.3" r="1.25" fill="#0f2a6c"/>
<circle cx="366.6" cy="225.1" r="1.25" fill="#0f2a6c"/>
<circle cx="358.1" cy="230" r="1.25" fill="#0f2a6c"/>
<circle cx="360.9" cy="230.4" r="1.25" fill="#0f2a6c"/>
<circle cx="360.9" cy="232.5" r="1.25" fill="#0f2a6c"/>
<circle cx="363.8" cy="232.8" r="1.25" fill="#0f2a6c"/>
<circle cx="366.6" cy="231.1" r="1.25" fill="#0f2a6c"/>
<circle cx="369.4" cy="231.8" r="1.25" fill="#0f2a6c"/>
<circle cx="352.2" cy="233.8" r="1.25" fill="#0f2a6c"/>
<circle cx="355.2" cy="235.6" r="1.25" fill="#0f2a6c"/>
<circle cx="363.8" cy="234.8" r="1.25" fill="#0f2a6c"/>
<circle cx="366.6" cy="234.5" r="1.25" fill="#0f2a6c"/>
<circle cx="369.4" cy="234.5" r="1.25" fill="#0f2a6c"/>
<circle cx="372.1" cy="234.5" r="1.25" fill="#0f2a6c"/>
<circle cx="352.2" cy="238.5" r="1.25" fill="#0f2a6c"/>
<circle cx="355.2" cy="239.2" r="1.25" fill="#0f2a6c"/>
<circle cx="358.1" cy="237.4" r="1.25" fill="#0f2a6c"/>
<circle cx="360.9" cy="237.7" r="1.25" fill="#0f2a6c"/>
<circle cx="363.8" cy="237.7" r="1.25" fill="#0f2a6c"/>
<circle cx="366.6" cy="237.4" r="1.25" fill="#0f2a6c"/>
<circle cx="369.4" cy="238.1" r="1.25" fill="#0f2a6c"/>
<circle cx="372.1" cy="237.7" r="1.25" fill="#0f2a6c"/>
<circle cx="375.1" cy="238.1" r="1.25" fill="#0f2a6c"/>
<circle cx="358.1" cy="240.7" r="1.25" fill="#0f2a6c"/>
<circle cx="360.9" cy="240.9" r="1.25" fill="#0f2a6c"/>
<circle cx="363.8" cy="239.7" r="1.25" fill="#0f2a6c"/>
<circle cx="366.6" cy="240.7" r="1.25" fill="#0f2a6c"/>
<circle cx="369.4" cy="239.7" r="1.25" fill="#0f2a6c"/>
<circle cx="372.1" cy="240.9" r="1.25" fill="#0f2a6c"/>
<circle cx="375.1" cy="240" r="1.25" fill="#0f2a6c"/>
<circle cx="352.2" cy="241.6" r="1.25" fill="#0f2a6c"/>
<circle cx="369.4" cy="241.8" r="1.25" fill="#0f2a6c"/>
<circle cx="363.8" cy="243" r="1.25" fill="#0f2a6c"/>
<circle cx="375.1" cy="243" r="1.25" fill="#0f2a6c"/>
<rect x="391.0" y="219.7" width="2.6" height="2.6" fill="#a80a25"/>
<rect x="394.09999999999997" y="222.6" width="2.6" height="2.6" fill="#a80a25"/>
<rect x="391.0" y="225.1" width="2.6" height="2.6" fill="#a80a25"/>
<rect x="392.4" y="229.2" width="2.6" height="2.6" fill="#a80a25"/>
<rect x="389.4" y="230.39999999999998" width="2.6" height="2.6" fill="#a80a25"/>
<rect x="387.9" y="233.29999999999998" width="2.6" height="2.6" fill="#a80a25"/>
<rect x="391.0" y="233.29999999999998" width="2.6" height="2.6" fill="#a80a25"/>
<rect x="394.09999999999997" y="235.39999999999998" width="2.6" height="2.6" fill="#a80a25"/>
<rect x="385.4" y="237.29999999999998" width="2.6" height="2.6" fill="#a80a25"/>
<rect x="387.9" y="237.0" width="2.6" height="2.6" fill="#a80a25"/>
<rect x="399.4" y="237.29999999999998" width="2.6" height="2.6" fill="#a80a25"/>
<rect x="402.7" y="236.6" width="2.6" height="2.6" fill="#a80a25"/>
<rect x="379.7" y="240.89999999999998" width="2.6" height="2.6" fill="#a80a25"/>
<rect x="382.5" y="239.89999999999998" width="2.6" height="2.6" fill="#a80a25"/>
<rect x="385.4" y="240.7" width="2.6" height="2.6" fill="#a80a25"/>
<rect x="387.9" y="240.29999999999998" width="2.6" height="2.6" fill="#a80a25"/>
<rect x="391.0" y="241.6" width="2.6" height="2.6" fill="#a80a25"/>
<rect x="394.09999999999997" y="240.29999999999998" width="2.6" height="2.6" fill="#a80a25"/>
<rect x="397.0" y="240.7" width="2.6" height="2.6" fill="#a80a25"/>
<rect x="399.4" y="240.29999999999998" width="2.6" height="2.6" fill="#a80a25"/>
<rect x="402.7" y="241.6" width="2.6" height="2.6" fill="#a80a25"/>
<line x1="350.9" y1="236.3" x2="376.4" y2="236.3" stroke="#000" stroke-width="1.0"/>
<line x1="380.1" y1="238.7" x2="404.9" y2="238.7" stroke="#000" stroke-width="1.0"/>
<line x1="445.7" y1="175.3" x2="445.7" y2="245.3" stroke="#000" stroke-width="1.1"/>
<line x1="442.7" y1="244.8" x2="512.3" y2="244.8" stroke="#000" stroke-width="1.1"/>
<line x1="442.7" y1="244.8" x2="445.7" y2="244.8" stroke="#000" stroke-width="1.1"/>
<text x="440.0" y="247.62" font-size="8.2" text-anchor="end">0.1</text>
<line x1="442.7" y1="228.175" x2="445.7" y2="228.175" stroke="#000" stroke-width="1.1"/>
<text x="440.0" y="230.995" font-size="8.2" text-anchor="end">1</text>
<line x1="442.7" y1="211.55" x2="445.7" y2="211.55" stroke="#000" stroke-width="1.1"/>
<text x="440.0" y="214.37" font-size="8.2" text-anchor="end">10</text>
<line x1="442.7" y1="194.925" x2="445.7" y2="194.925" stroke="#000" stroke-width="1.1"/>
<text x="440.0" y="197.745" font-size="8.2" text-anchor="end">100</text>
<line x1="442.7" y1="178.3" x2="445.7" y2="178.3" stroke="#000" stroke-width="1.1"/>
<text x="440.0" y="181.12" font-size="8.2" text-anchor="end">1000</text>
<line x1="443.9" y1="239.79537632208633" x2="445.7" y2="239.79537632208633" stroke="#000" stroke-width="0.8"/>
<line x1="443.9" y1="236.86785914028562" x2="445.7" y2="236.86785914028562" stroke="#000" stroke-width="0.8"/>
<line x1="443.9" y1="234.79075264417264" x2="445.7" y2="234.79075264417264" stroke="#000" stroke-width="0.8"/>
<line x1="443.9" y1="233.1796236779137" x2="445.7" y2="233.1796236779137" stroke="#000" stroke-width="0.8"/>
<line x1="443.9" y1="231.86323546237193" x2="445.7" y2="231.86323546237193" stroke="#000" stroke-width="0.8"/>
<line x1="443.9" y1="230.75024508476298" x2="445.7" y2="230.75024508476298" stroke="#000" stroke-width="0.8"/>
<line x1="443.9" y1="229.78612896625896" x2="445.7" y2="229.78612896625896" stroke="#000" stroke-width="0.8"/>
<line x1="443.9" y1="228.93571828057122" x2="445.7" y2="228.93571828057122" stroke="#000" stroke-width="0.8"/>
<line x1="443.9" y1="223.17037632208633" x2="445.7" y2="223.17037632208633" stroke="#000" stroke-width="0.8"/>
<line x1="443.9" y1="220.24285914028562" x2="445.7" y2="220.24285914028562" stroke="#000" stroke-width="0.8"/>
<line x1="443.9" y1="218.16575264417264" x2="445.7" y2="218.16575264417264" stroke="#000" stroke-width="0.8"/>
<line x1="443.9" y1="216.5546236779137" x2="445.7" y2="216.5546236779137" stroke="#000" stroke-width="0.8"/>
<line x1="443.9" y1="215.23823546237193" x2="445.7" y2="215.23823546237193" stroke="#000" stroke-width="0.8"/>
<line x1="443.9" y1="214.12524508476298" x2="445.7" y2="214.12524508476298" stroke="#000" stroke-width="0.8"/>
<line x1="443.9" y1="213.16112896625896" x2="445.7" y2="213.16112896625896" stroke="#000" stroke-width="0.8"/>
<line x1="443.9" y1="212.31071828057122" x2="445.7" y2="212.31071828057122" stroke="#000" stroke-width="0.8"/>
<line x1="443.9" y1="206.54537632208633" x2="445.7" y2="206.54537632208633" stroke="#000" stroke-width="0.8"/>
<line x1="443.9" y1="203.61785914028562" x2="445.7" y2="203.61785914028562" stroke="#000" stroke-width="0.8"/>
<line x1="443.9" y1="201.54075264417264" x2="445.7" y2="201.54075264417264" stroke="#000" stroke-width="0.8"/>
<line x1="443.9" y1="199.9296236779137" x2="445.7" y2="199.9296236779137" stroke="#000" stroke-width="0.8"/>
<line x1="443.9" y1="198.61323546237193" x2="445.7" y2="198.61323546237193" stroke="#000" stroke-width="0.8"/>
<line x1="443.9" y1="197.50024508476298" x2="445.7" y2="197.50024508476298" stroke="#000" stroke-width="0.8"/>
<line x1="443.9" y1="196.53612896625896" x2="445.7" y2="196.53612896625896" stroke="#000" stroke-width="0.8"/>
<line x1="443.9" y1="195.68571828057122" x2="445.7" y2="195.68571828057122" stroke="#000" stroke-width="0.8"/>
<line x1="443.9" y1="189.92037632208633" x2="445.7" y2="189.92037632208633" stroke="#000" stroke-width="0.8"/>
<line x1="443.9" y1="186.99285914028562" x2="445.7" y2="186.99285914028562" stroke="#000" stroke-width="0.8"/>
<line x1="443.9" y1="184.91575264417264" x2="445.7" y2="184.91575264417264" stroke="#000" stroke-width="0.8"/>
<line x1="443.9" y1="183.3046236779137" x2="445.7" y2="183.3046236779137" stroke="#000" stroke-width="0.8"/>
<line x1="443.9" y1="181.98823546237193" x2="445.7" y2="181.98823546237193" stroke="#000" stroke-width="0.8"/>
<line x1="443.9" y1="180.87524508476298" x2="445.7" y2="180.87524508476298" stroke="#000" stroke-width="0.8"/>
<line x1="443.9" y1="179.91112896625896" x2="445.7" y2="179.91112896625896" stroke="#000" stroke-width="0.8"/>
<line x1="443.9" y1="179.06071828057122" x2="445.7" y2="179.06071828057122" stroke="#000" stroke-width="0.8"/>
<line x1="464.8" y1="244.8" x2="464.8" y2="247.8" stroke="#000" stroke-width="1.1"/>
<line x1="493.7" y1="244.8" x2="493.7" y2="247.8" stroke="#000" stroke-width="1.1"/>
<text x="465.2" y="258.1" font-size="8" text-anchor="middle">No</text>
<text x="465.2" y="268.2" font-size="8" text-anchor="middle" textLength="23.1" lengthAdjust="spacingAndGlyphs">GVHD</text>
<text x="493.7" y="258.1" font-size="8" text-anchor="middle" textLength="23.1" lengthAdjust="spacingAndGlyphs">GVHD</text>
<line x1="463.8" y1="178.0" x2="492.9" y2="178.0" stroke="#000" stroke-width="1.1"/>
<line x1="463.8" y1="176.7" x2="463.8" y2="179.3" stroke="#000" stroke-width="1"/>
<line x1="492.9" y1="176.7" x2="492.9" y2="179.3" stroke="#000" stroke-width="1"/>
<text x="466.59999999999997" y="174.7" font-size="7.4" textLength="23.6" lengthAdjust="spacingAndGlyphs">0.0754</text>
<text x="465.7" y="160.7" font-size="10.0" textLength="5.8" lengthAdjust="spacingAndGlyphs">T</text><text x="471.1" y="162.7" font-size="7.6" textLength="21.2" lengthAdjust="spacingAndGlyphs">EMRA</text>
<circle cx="464.7" cy="186.3" r="1.25" fill="#0f2a6c"/>
<circle cx="468.8" cy="211.3" r="1.25" fill="#0f2a6c"/>
<circle cx="460.8" cy="213.1" r="1.25" fill="#0f2a6c"/>
<circle cx="463.3" cy="213.8" r="1.25" fill="#0f2a6c"/>
<circle cx="460.8" cy="216.2" r="1.25" fill="#0f2a6c"/>
<circle cx="466" cy="216.2" r="1.25" fill="#0f2a6c"/>
<circle cx="468.8" cy="215.8" r="1.25" fill="#0f2a6c"/>
<circle cx="466" cy="218.7" r="1.25" fill="#0f2a6c"/>
<circle cx="460.8" cy="220.8" r="1.25" fill="#0f2a6c"/>
<circle cx="463.7" cy="220.5" r="1.25" fill="#0f2a6c"/>
<circle cx="468.8" cy="220.2" r="1.25" fill="#0f2a6c"/>
<circle cx="466" cy="222.2" r="1.25" fill="#0f2a6c"/>
<circle cx="458.3" cy="222.8" r="1.25" fill="#0f2a6c"/>
<circle cx="460.8" cy="223.7" r="1.25" fill="#0f2a6c"/>
<circle cx="463.3" cy="223.7" r="1.25" fill="#0f2a6c"/>
<circle cx="468.6" cy="223.7" r="1.25" fill="#0f2a6c"/>
<circle cx="471.5" cy="223.7" r="1.25" fill="#0f2a6c"/>
<circle cx="458.3" cy="225.7" r="1.25" fill="#0f2a6c"/>
<circle cx="460.8" cy="225.3" r="1.25" fill="#0f2a6c"/>
<circle cx="463.3" cy="225.3" r="1.25" fill="#0f2a6c"/>
<circle cx="466" cy="225.7" r="1.25" fill="#0f2a6c"/>
<circle cx="468.6" cy="225.3" r="1.25" fill="#0f2a6c"/>
<circle cx="471.5" cy="225.7" r="1.25" fill="#0f2a6c"/>
<circle cx="474" cy="225.3" r="1.25" fill="#0f2a6c"/>
<circle cx="453.4" cy="228.6" r="1.25" fill="#0f2a6c"/>
<circle cx="455.8" cy="230.1" r="1.25" fill="#0f2a6c"/>
<circle cx="458.3" cy="229.6" r="1.25" fill="#0f2a6c"/>
<circle cx="460.8" cy="227.8" r="1.25" fill="#0f2a6c"/>
<circle cx="463.3" cy="227.8" r="1.25" fill="#0f2a6c"/>
<circle cx="466" cy="227.8" r="1.25" fill="#0f2a6c"/>
<circle cx="468.6" cy="227.8" r="1.25" fill="#0f2a6c"/>
<circle cx="471.5" cy="227.8" r="1.25" fill="#0f2a6c"/>
<circle cx="474" cy="229.4" r="1.25" fill="#0f2a6c"/>
<circle cx="476.5" cy="228.6" r="1.25" fill="#0f2a6c"/>
<circle cx="460.8" cy="231.5" r="1.25" fill="#0f2a6c"/>
<circle cx="463.3" cy="231.5" r="1.25" fill="#0f2a6c"/>
<circle cx="466" cy="230.9" r="1.25" fill="#0f2a6c"/>
<circle cx="468.6" cy="232.3" r="1.25" fill="#0f2a6c"/>
<circle cx="471.5" cy="230.1" r="1.25" fill="#0f2a6c"/>
<circle cx="464.9" cy="238.9" r="1.25" fill="#0f2a6c"/>
<rect x="492.0" y="212.6" width="2.6" height="2.6" fill="#a80a25"/>
<rect x="490.7" y="216.6" width="2.6" height="2.6" fill="#a80a25"/>
<rect x="488.09999999999997" y="218.5" width="2.6" height="2.6" fill="#a80a25"/>
<rect x="493.4" y="219.0" width="2.6" height="2.6" fill="#a80a25"/>
<rect x="490.7" y="220.5" width="2.6" height="2.6" fill="#a80a25"/>
<rect x="493.4" y="222.29999999999998" width="2.6" height="2.6" fill="#a80a25"/>
<rect x="490.7" y="223.2" width="2.6" height="2.6" fill="#a80a25"/>
<rect x="480.59999999999997" y="228.7" width="2.6" height="2.6" fill="#a80a25"/>
<rect x="483.3" y="229.29999999999998" width="2.6" height="2.6" fill="#a80a25"/>
<rect x="485.5" y="227.79999999999998" width="2.6" height="2.6" fill="#a80a25"/>
<rect x="488.09999999999997" y="226.7" width="2.6" height="2.6" fill="#a80a25"/>
<rect x="495.8" y="227.5" width="2.6" height="2.6" fill="#a80a25"/>
<rect x="498.2" y="227.1" width="2.6" height="2.6" fill="#a80a25"/>
<rect x="500.8" y="226.7" width="2.6" height="2.6" fill="#a80a25"/>
<rect x="503.9" y="229.29999999999998" width="2.6" height="2.6" fill="#a80a25"/>
<rect x="490.7" y="229.7" width="2.6" height="2.6" fill="#a80a25"/>
<rect x="490.7" y="231.89999999999998" width="2.6" height="2.6" fill="#a80a25"/>
<rect x="493.4" y="232.79999999999998" width="2.6" height="2.6" fill="#a80a25"/>
<rect x="495.8" y="231.7" width="2.6" height="2.6" fill="#a80a25"/>
<rect x="493.4" y="230.39999999999998" width="2.6" height="2.6" fill="#a80a25"/>
<rect x="492.0" y="237.39999999999998" width="2.6" height="2.6" fill="#a80a25"/>
<line x1="452.1" y1="225.6" x2="477.7" y2="225.6" stroke="#000" stroke-width="1.0"/>
<line x1="481.1" y1="229.5" x2="506" y2="229.5" stroke="#000" stroke-width="1.0"/>
<line x1="62.9" y1="286.5" x2="62.9" y2="356.6" stroke="#000" stroke-width="1.1"/>
<line x1="59.9" y1="356.1" x2="129.8" y2="356.1" stroke="#000" stroke-width="1.1"/>
<line x1="59.9" y1="356.1" x2="62.9" y2="356.1" stroke="#000" stroke-width="1.1"/>
<text x="57.199999999999996" y="358.92" font-size="8.2" text-anchor="end">0</text>
<line x1="59.9" y1="342.78000000000003" x2="62.9" y2="342.78000000000003" stroke="#000" stroke-width="1.1"/>
<text x="57.199999999999996" y="345.6" font-size="8.2" text-anchor="end">2</text>
<line x1="59.9" y1="329.46000000000004" x2="62.9" y2="329.46000000000004" stroke="#000" stroke-width="1.1"/>
<text x="57.199999999999996" y="332.28000000000003" font-size="8.2" text-anchor="end">4</text>
<line x1="59.9" y1="316.14" x2="62.9" y2="316.14" stroke="#000" stroke-width="1.1"/>
<text x="57.199999999999996" y="318.96" font-size="8.2" text-anchor="end">6</text>
<line x1="59.9" y1="302.82" x2="62.9" y2="302.82" stroke="#000" stroke-width="1.1"/>
<text x="57.199999999999996" y="305.64" font-size="8.2" text-anchor="end">8</text>
<line x1="59.9" y1="289.5" x2="62.9" y2="289.5" stroke="#000" stroke-width="1.1"/>
<text x="57.199999999999996" y="292.32" font-size="8.2" text-anchor="end">10</text>
<line x1="82.4" y1="356.1" x2="82.4" y2="359.1" stroke="#000" stroke-width="1.1"/>
<line x1="110.8" y1="356.1" x2="110.8" y2="359.1" stroke="#000" stroke-width="1.1"/>
<text x="82.80000000000001" y="369.40000000000003" font-size="8" text-anchor="middle">No</text>
<text x="82.80000000000001" y="379.5" font-size="8" text-anchor="middle" textLength="23.1" lengthAdjust="spacingAndGlyphs">GVHD</text>
<text x="110.8" y="369.40000000000003" font-size="8" text-anchor="middle" textLength="23.1" lengthAdjust="spacingAndGlyphs">GVHD</text>
<line x1="81.4" y1="289.1" x2="111.8" y2="289.1" stroke="#000" stroke-width="1.1"/>
<line x1="81.4" y1="287.8" x2="81.4" y2="290.40000000000003" stroke="#000" stroke-width="1"/>
<line x1="111.8" y1="287.8" x2="111.8" y2="290.40000000000003" stroke="#000" stroke-width="1"/>
<text x="84.8" y="285.8" font-size="7.4" textLength="23.6" lengthAdjust="spacingAndGlyphs">0.0075</text>

<text transform="translate(42.4,321.2) rotate(-90)" font-size="10" text-anchor="middle" textLength="29" lengthAdjust="spacingAndGlyphs" style="stroke-width:0.35px">Ratio R/D</text>
<circle cx="82" cy="341" r="1.25" fill="#0f2a6c"/>
<circle cx="81" cy="348" r="1.25" fill="#0f2a6c"/>
<circle cx="83" cy="349.7" r="1.25" fill="#0f2a6c"/>
<circle cx="79.7" cy="351.9" r="1.25" fill="#0f2a6c"/>
<circle cx="81.5" cy="351.5" r="1.25" fill="#0f2a6c"/>
<circle cx="84.4" cy="352.2" r="1.25" fill="#0f2a6c"/>
<circle cx="87.7" cy="353.3" r="1.25" fill="#0f2a6c"/>
<circle cx="71.8" cy="353.7" r="1.25" fill="#0f2a6c"/>
<circle cx="74" cy="354.3" r="1.25" fill="#0f2a6c"/>
<circle cx="77" cy="354.6" r="1.25" fill="#0f2a6c"/>
<circle cx="89" cy="354.6" r="1.25" fill="#0f2a6c"/>
<circle cx="91.5" cy="354.8" r="1.25" fill="#0f2a6c"/>
<circle cx="70.5" cy="355.7" r="1.25" fill="#0f2a6c"/>
<circle cx="73" cy="355.7" r="1.25" fill="#0f2a6c"/>
<circle cx="75.5" cy="355.7" r="1.25" fill="#0f2a6c"/>
<circle cx="78" cy="355.7" r="1.25" fill="#0f2a6c"/>
<circle cx="80.5" cy="355.7" r="1.25" fill="#0f2a6c"/>
<circle cx="83" cy="355.7" r="1.25" fill="#0f2a6c"/>
<circle cx="85.5" cy="355.7" r="1.25" fill="#0f2a6c"/>
<circle cx="88" cy="355.7" r="1.25" fill="#0f2a6c"/>
<circle cx="90.5" cy="355.7" r="1.25" fill="#0f2a6c"/>
<circle cx="93" cy="355.7" r="1.25" fill="#0f2a6c"/>
<rect x="109.3" y="303.7" width="2.6" height="2.6" fill="#a80a25"/>
<rect x="104.7" y="346.59999999999997" width="2.6" height="2.6" fill="#a80a25"/>
<rect x="111.3" y="347.59999999999997" width="2.6" height="2.6" fill="#a80a25"/>
<rect x="113.60000000000001" y="348.4" width="2.6" height="2.6" fill="#a80a25"/>
<rect x="102.4" y="349.59999999999997" width="2.6" height="2.6" fill="#a80a25"/>
<rect x="97.8" y="350.3" width="2.6" height="2.6" fill="#a80a25"/>
<rect x="117.9" y="350.0" width="2.6" height="2.6" fill="#a80a25"/>
<rect x="120.60000000000001" y="350.0" width="2.6" height="2.6" fill="#a80a25"/>
<rect x="99.7" y="351.3" width="2.6" height="2.6" fill="#a80a25"/>
<rect x="103.7" y="351.3" width="2.6" height="2.6" fill="#a80a25"/>
<rect x="107.7" y="351.3" width="2.6" height="2.6" fill="#a80a25"/>
<rect x="115.7" y="351.3" width="2.6" height="2.6" fill="#a80a25"/>
<rect x="120.2" y="351.3" width="2.6" height="2.6" fill="#a80a25"/>
<rect x="97.7" y="353.4" width="2.6" height="2.6" fill="#a80a25"/>
<rect x="100.7" y="353.4" width="2.6" height="2.6" fill="#a80a25"/>
<rect x="103.7" y="353.4" width="2.6" height="2.6" fill="#a80a25"/>
<rect x="106.7" y="353.4" width="2.6" height="2.6" fill="#a80a25"/>
<rect x="109.7" y="353.4" width="2.6" height="2.6" fill="#a80a25"/>
<rect x="112.7" y="353.4" width="2.6" height="2.6" fill="#a80a25"/>
<rect x="115.7" y="353.4" width="2.6" height="2.6" fill="#a80a25"/>
<rect x="118.7" y="353.4" width="2.6" height="2.6" fill="#a80a25"/>
<rect x="121.2" y="353.4" width="2.6" height="2.6" fill="#a80a25"/>
<line x1="69" y1="355.4" x2="94.5" y2="355.4" stroke="#000" stroke-width="1.0"/>
<line x1="98" y1="353.2" x2="123" y2="353.2" stroke="#000" stroke-width="1.0"/>
<line x1="165.9" y1="286.5" x2="165.9" y2="356.6" stroke="#000" stroke-width="1.1"/>
<line x1="162.9" y1="356.1" x2="232.7" y2="356.1" stroke="#000" stroke-width="1.1"/>
<line x1="162.9" y1="356.1" x2="165.9" y2="356.1" stroke="#000" stroke-width="1.1"/>
<text x="160.20000000000002" y="358.92" font-size="8.2" text-anchor="end">0.001</text>
<line x1="162.9" y1="342.78000000000003" x2="165.9" y2="342.78000000000003" stroke="#000" stroke-width="1.1"/>
<text x="160.20000000000002" y="345.6" font-size="8.2" text-anchor="end">0.01</text>
<line x1="162.9" y1="329.46000000000004" x2="165.9" y2="329.46000000000004" stroke="#000" stroke-width="1.1"/>
<text x="160.20000000000002" y="332.28000000000003" font-size="8.2" text-anchor="end">0.1</text>
<line x1="162.9" y1="316.14" x2="165.9" y2="316.14" stroke="#000" stroke-width="1.1"/>
<text x="160.20000000000002" y="318.96" font-size="8.2" text-anchor="end">1</text>
<line x1="162.9" y1="302.82" x2="165.9" y2="302.82" stroke="#000" stroke-width="1.1"/>
<text x="160.20000000000002" y="305.64" font-size="8.2" text-anchor="end">10</text>
<line x1="162.9" y1="289.5" x2="165.9" y2="289.5" stroke="#000" stroke-width="1.1"/>
<text x="160.20000000000002" y="292.32" font-size="8.2" text-anchor="end">100</text>
<line x1="164.1" y1="352.0902804577558" x2="165.9" y2="352.0902804577558" stroke="#000" stroke-width="0.8"/>
<line x1="164.1" y1="349.7447448871341" x2="165.9" y2="349.7447448871341" stroke="#000" stroke-width="0.8"/>
<line x1="164.1" y1="348.08056091551157" x2="165.9" y2="348.08056091551157" stroke="#000" stroke-width="0.8"/>
<line x1="164.1" y1="346.78971954224426" x2="165.9" y2="346.78971954224426" stroke="#000" stroke-width="0.8"/>
<line x1="164.1" y1="345.7350253448899" x2="165.9" y2="345.7350253448899" stroke="#000" stroke-width="0.8"/>
<line x1="164.1" y1="344.84329410701014" x2="165.9" y2="344.84329410701014" stroke="#000" stroke-width="0.8"/>
<line x1="164.1" y1="344.07084137326734" x2="165.9" y2="344.07084137326734" stroke="#000" stroke-width="0.8"/>
<line x1="164.1" y1="343.3894897742682" x2="165.9" y2="343.3894897742682" stroke="#000" stroke-width="0.8"/>
<line x1="164.1" y1="338.7702804577558" x2="165.9" y2="338.7702804577558" stroke="#000" stroke-width="0.8"/>
<line x1="164.1" y1="336.4247448871341" x2="165.9" y2="336.4247448871341" stroke="#000" stroke-width="0.8"/>
<line x1="164.1" y1="334.7605609155116" x2="165.9" y2="334.7605609155116" stroke="#000" stroke-width="0.8"/>
<line x1="164.1" y1="333.46971954224426" x2="165.9" y2="333.46971954224426" stroke="#000" stroke-width="0.8"/>
<line x1="164.1" y1="332.4150253448899" x2="165.9" y2="332.4150253448899" stroke="#000" stroke-width="0.8"/>
<line x1="164.1" y1="331.52329410701014" x2="165.9" y2="331.52329410701014" stroke="#000" stroke-width="0.8"/>
<line x1="164.1" y1="330.75084137326735" x2="165.9" y2="330.75084137326735" stroke="#000" stroke-width="0.8"/>
<line x1="164.1" y1="330.0694897742682" x2="165.9" y2="330.0694897742682" stroke="#000" stroke-width="0.8"/>
<line x1="164.1" y1="325.4502804577558" x2="165.9" y2="325.4502804577558" stroke="#000" stroke-width="0.8"/>
<line x1="164.1" y1="323.10474488713413" x2="165.9" y2="323.10474488713413" stroke="#000" stroke-width="0.8"/>
<line x1="164.1" y1="321.4405609155116" x2="165.9" y2="321.4405609155116" stroke="#000" stroke-width="0.8"/>
<line x1="164.1" y1="320.14971954224427" x2="165.9" y2="320.14971954224427" stroke="#000" stroke-width="0.8"/>
<line x1="164.1" y1="319.0950253448899" x2="165.9" y2="319.0950253448899" stroke="#000" stroke-width="0.8"/>
<line x1="164.1" y1="318.20329410701015" x2="165.9" y2="318.20329410701015" stroke="#000" stroke-width="0.8"/>
<line x1="164.1" y1="317.43084137326736" x2="165.9" y2="317.43084137326736" stroke="#000" stroke-width="0.8"/>
<line x1="164.1" y1="316.7494897742682" x2="165.9" y2="316.7494897742682" stroke="#000" stroke-width="0.8"/>
<line x1="164.1" y1="312.13028045775576" x2="165.9" y2="312.13028045775576" stroke="#000" stroke-width="0.8"/>
<line x1="164.1" y1="309.7847448871341" x2="165.9" y2="309.7847448871341" stroke="#000" stroke-width="0.8"/>
<line x1="164.1" y1="308.12056091551153" x2="165.9" y2="308.12056091551153" stroke="#000" stroke-width="0.8"/>
<line x1="164.1" y1="306.8297195422442" x2="165.9" y2="306.8297195422442" stroke="#000" stroke-width="0.8"/>
<line x1="164.1" y1="305.77502534488985" x2="165.9" y2="305.77502534488985" stroke="#000" stroke-width="0.8"/>
<line x1="164.1" y1="304.8832941070101" x2="165.9" y2="304.8832941070101" stroke="#000" stroke-width="0.8"/>
<line x1="164.1" y1="304.1108413732673" x2="165.9" y2="304.1108413732673" stroke="#000" stroke-width="0.8"/>
<line x1="164.1" y1="303.4294897742682" x2="165.9" y2="303.4294897742682" stroke="#000" stroke-width="0.8"/>
<line x1="164.1" y1="298.81028045775577" x2="165.9" y2="298.81028045775577" stroke="#000" stroke-width="0.8"/>
<line x1="164.1" y1="296.4647448871341" x2="165.9" y2="296.4647448871341" stroke="#000" stroke-width="0.8"/>
<line x1="164.1" y1="294.80056091551154" x2="165.9" y2="294.80056091551154" stroke="#000" stroke-width="0.8"/>
<line x1="164.1" y1="293.5097195422442" x2="165.9" y2="293.5097195422442" stroke="#000" stroke-width="0.8"/>
<line x1="164.1" y1="292.45502534488986" x2="165.9" y2="292.45502534488986" stroke="#000" stroke-width="0.8"/>
<line x1="164.1" y1="291.5632941070101" x2="165.9" y2="291.5632941070101" stroke="#000" stroke-width="0.8"/>
<line x1="164.1" y1="290.7908413732673" x2="165.9" y2="290.7908413732673" stroke="#000" stroke-width="0.8"/>
<line x1="164.1" y1="290.1094897742682" x2="165.9" y2="290.1094897742682" stroke="#000" stroke-width="0.8"/>
<line x1="185.5" y1="356.1" x2="185.5" y2="359.1" stroke="#000" stroke-width="1.1"/>
<line x1="214.4" y1="356.1" x2="214.4" y2="359.1" stroke="#000" stroke-width="1.1"/>
<text x="185.9" y="369.40000000000003" font-size="8" text-anchor="middle">No</text>
<text x="185.9" y="379.5" font-size="8" text-anchor="middle" textLength="23.1" lengthAdjust="spacingAndGlyphs">GVHD</text>
<text x="214.4" y="369.40000000000003" font-size="8" text-anchor="middle" textLength="23.1" lengthAdjust="spacingAndGlyphs">GVHD</text>
<line x1="185.0" y1="287.8" x2="213.8" y2="287.8" stroke="#000" stroke-width="1.1"/>
<line x1="185.0" y1="286.5" x2="185.0" y2="289.1" stroke="#000" stroke-width="1"/>
<line x1="213.8" y1="286.5" x2="213.8" y2="289.1" stroke="#000" stroke-width="1"/>
<text x="187.39999999999998" y="284.5" font-size="7.4" textLength="24.0" lengthAdjust="spacingAndGlyphs">0.0067</text>

<circle cx="183.8" cy="305.1" r="1.25" fill="#0f2a6c"/>
<circle cx="183.8" cy="308.2" r="1.25" fill="#0f2a6c"/>
<circle cx="187" cy="308.5" r="1.25" fill="#0f2a6c"/>
<circle cx="190.2" cy="307.6" r="1.25" fill="#0f2a6c"/>
<circle cx="177.1" cy="311.5" r="1.25" fill="#0f2a6c"/>
<circle cx="187" cy="311.8" r="1.25" fill="#0f2a6c"/>
<circle cx="173.9" cy="314.9" r="1.25" fill="#0f2a6c"/>
<circle cx="177.1" cy="314.5" r="1.25" fill="#0f2a6c"/>
<circle cx="180.4" cy="313.9" r="1.25" fill="#0f2a6c"/>
<circle cx="183.8" cy="314.2" r="1.25" fill="#0f2a6c"/>
<circle cx="190.2" cy="313.6" r="1.25" fill="#0f2a6c"/>
<circle cx="193.6" cy="312.5" r="1.25" fill="#0f2a6c"/>
<circle cx="180.4" cy="315.7" r="1.25" fill="#0f2a6c"/>
<circle cx="187" cy="316.7" r="1.25" fill="#0f2a6c"/>
<circle cx="190.2" cy="316.2" r="1.25" fill="#0f2a6c"/>
<circle cx="193.6" cy="315.9" r="1.25" fill="#0f2a6c"/>
<circle cx="177.1" cy="317.6" r="1.25" fill="#0f2a6c"/>
<circle cx="183.8" cy="317.6" r="1.25" fill="#0f2a6c"/>
<circle cx="196.7" cy="317.8" r="1.25" fill="#0f2a6c"/>
<circle cx="177.2" cy="320.5" r="1.25" fill="#0f2a6c"/>
<circle cx="177.2" cy="323.4" r="1.25" fill="#0f2a6c"/>
<circle cx="180.5" cy="322.2" r="1.25" fill="#0f2a6c"/>
<circle cx="183.7" cy="321" r="1.25" fill="#0f2a6c"/>
<circle cx="187" cy="320.9" r="1.25" fill="#0f2a6c"/>
<circle cx="190.2" cy="323.2" r="1.25" fill="#0f2a6c"/>
<circle cx="193.5" cy="319.6" r="1.25" fill="#0f2a6c"/>
<circle cx="193.5" cy="322" r="1.25" fill="#0f2a6c"/>
<circle cx="183.7" cy="325.6" r="1.25" fill="#0f2a6c"/>
<circle cx="187" cy="324.4" r="1.25" fill="#0f2a6c"/>
<circle cx="183.7" cy="329.4" r="1.25" fill="#0f2a6c"/>
<circle cx="187" cy="328.8" r="1.25" fill="#0f2a6c"/>
<circle cx="183.7" cy="342.5" r="1.25" fill="#0f2a6c"/>
<circle cx="187" cy="342.3" r="1.25" fill="#0f2a6c"/>
<rect x="212.7" y="295.59999999999997" width="2.6" height="2.6" fill="#a80a25"/>
<rect x="207.0" y="304.59999999999997" width="2.6" height="2.6" fill="#a80a25"/>
<rect x="212.7" y="303.59999999999997" width="2.6" height="2.6" fill="#a80a25"/>
<rect x="218.1" y="306.2" width="2.6" height="2.6" fill="#a80a25"/>
<rect x="201.29999999999998" y="307.4" width="2.6" height="2.6" fill="#a80a25"/>
<rect x="207.0" y="308.7" width="2.6" height="2.6" fill="#a80a25"/>
<rect x="212.7" y="307.4" width="2.6" height="2.6" fill="#a80a25"/>
<rect x="218.1" y="309.3" width="2.6" height="2.6" fill="#a80a25"/>
<rect x="224.0" y="308.7" width="2.6" height="2.6" fill="#a80a25"/>
<rect x="207.0" y="311.3" width="2.6" height="2.6" fill="#a80a25"/>
<rect x="212.7" y="310.3" width="2.6" height="2.6" fill="#a80a25"/>
<rect x="218.1" y="311.3" width="2.6" height="2.6" fill="#a80a25"/>
<rect x="207.0" y="314.59999999999997" width="2.6" height="2.6" fill="#a80a25"/>
<rect x="212.7" y="314.2" width="2.6" height="2.6" fill="#a80a25"/>
<rect x="218.1" y="315.4" width="2.6" height="2.6" fill="#a80a25"/>
<rect x="201.29999999999998" y="318.0" width="2.6" height="2.6" fill="#a80a25"/>
<rect x="207.0" y="318.7" width="2.6" height="2.6" fill="#a80a25"/>
<rect x="212.7" y="318.0" width="2.6" height="2.6" fill="#a80a25"/>
<rect x="218.1" y="319.4" width="2.6" height="2.6" fill="#a80a25"/>
<rect x="224.0" y="318.5" width="2.6" height="2.6" fill="#a80a25"/>
<rect x="212.7" y="329.7" width="2.6" height="2.6" fill="#a80a25"/>
<line x1="173.1" y1="317.6" x2="197.4" y2="317.6" stroke="#000" stroke-width="1.0"/>
<line x1="201.1" y1="312.6" x2="226.7" y2="312.6" stroke="#000" stroke-width="1.0"/>
<line x1="253.3" y1="286.5" x2="253.3" y2="356.6" stroke="#000" stroke-width="1.1"/>
<line x1="250.3" y1="356.1" x2="319.6" y2="356.1" stroke="#000" stroke-width="1.1"/>
<line x1="250.3" y1="356.1" x2="253.3" y2="356.1" stroke="#000" stroke-width="1.1"/>
<text x="247.60000000000002" y="358.92" font-size="8.2" text-anchor="end">0</text>
<line x1="250.3" y1="339.45000000000005" x2="253.3" y2="339.45000000000005" stroke="#000" stroke-width="1.1"/>
<text x="247.60000000000002" y="342.27000000000004" font-size="8.2" text-anchor="end">1</text>
<line x1="250.3" y1="322.8" x2="253.3" y2="322.8" stroke="#000" stroke-width="1.1"/>
<text x="247.60000000000002" y="325.62" font-size="8.2" text-anchor="end">2</text>
<line x1="250.3" y1="306.15" x2="253.3" y2="306.15" stroke="#000" stroke-width="1.1"/>
<text x="247.60000000000002" y="308.96999999999997" font-size="8.2" text-anchor="end">3</text>
<line x1="250.3" y1="289.5" x2="253.3" y2="289.5" stroke="#000" stroke-width="1.1"/>
<text x="247.60000000000002" y="292.32" font-size="8.2" text-anchor="end">4</text>
<line x1="272" y1="356.1" x2="272" y2="359.1" stroke="#000" stroke-width="1.1"/>
<line x1="300.6" y1="356.1" x2="300.6" y2="359.1" stroke="#000" stroke-width="1.1"/>
<text x="272.4" y="369.40000000000003" font-size="8" text-anchor="middle">No</text>
<text x="272.4" y="379.5" font-size="8" text-anchor="middle" textLength="23.1" lengthAdjust="spacingAndGlyphs">GVHD</text>
<text x="300.6" y="369.40000000000003" font-size="8" text-anchor="middle" textLength="23.1" lengthAdjust="spacingAndGlyphs">GVHD</text>
<line x1="272.0" y1="289.8" x2="301.4" y2="289.8" stroke="#000" stroke-width="1.1"/>
<line x1="272.0" y1="288.5" x2="272.0" y2="291.1" stroke="#000" stroke-width="1"/>
<line x1="301.4" y1="288.5" x2="301.4" y2="291.1" stroke="#000" stroke-width="1"/>
<text x="274.2" y="286.5" font-size="7.4" textLength="24.2" lengthAdjust="spacingAndGlyphs">0.2062</text>

<circle cx="269.9" cy="317.4" r="1.25" fill="#0f2a6c"/>
<circle cx="274.4" cy="317.9" r="1.25" fill="#0f2a6c"/>
<circle cx="265.4" cy="324.2" r="1.25" fill="#0f2a6c"/>
<circle cx="269.9" cy="326.4" r="1.25" fill="#0f2a6c"/>
<circle cx="279" cy="325.3" r="1.25" fill="#0f2a6c"/>
<circle cx="269.9" cy="329.9" r="1.25" fill="#0f2a6c"/>
<circle cx="274.4" cy="331.6" r="1.25" fill="#0f2a6c"/>
<circle cx="269.9" cy="333.3" r="1.25" fill="#0f2a6c"/>
<circle cx="279" cy="333.8" r="1.25" fill="#0f2a6c"/>
<circle cx="265.2" cy="335.8" r="1.25" fill="#0f2a6c"/>
<circle cx="270.1" cy="337.8" r="1.25" fill="#0f2a6c"/>
<circle cx="279" cy="337.6" r="1.25" fill="#0f2a6c"/>
<circle cx="279" cy="339.2" r="1.25" fill="#0f2a6c"/>
<circle cx="260.9" cy="340.7" r="1.25" fill="#0f2a6c"/>
<circle cx="265.2" cy="340.7" r="1.25" fill="#0f2a6c"/>
<circle cx="270.1" cy="340.7" r="1.25" fill="#0f2a6c"/>
<circle cx="279" cy="340.8" r="1.25" fill="#0f2a6c"/>
<circle cx="270.1" cy="342.6" r="1.25" fill="#0f2a6c"/>
<circle cx="274.6" cy="342.6" r="1.25" fill="#0f2a6c"/>
<circle cx="283.4" cy="341.9" r="1.25" fill="#0f2a6c"/>
<circle cx="270.1" cy="344.1" r="1.25" fill="#0f2a6c"/>
<circle cx="265.2" cy="345.2" r="1.25" fill="#0f2a6c"/>
<circle cx="283.4" cy="345.2" r="1.25" fill="#0f2a6c"/>
<circle cx="270.1" cy="346.8" r="1.25" fill="#0f2a6c"/>
<circle cx="274.6" cy="347" r="1.25" fill="#0f2a6c"/>
<circle cx="279" cy="346.8" r="1.25" fill="#0f2a6c"/>
<circle cx="265.2" cy="348" r="1.25" fill="#0f2a6c"/>
<circle cx="279" cy="348" r="1.25" fill="#0f2a6c"/>
<circle cx="283.4" cy="348" r="1.25" fill="#0f2a6c"/>
<circle cx="279" cy="349.5" r="1.25" fill="#0f2a6c"/>
<circle cx="260.9" cy="350.4" r="1.25" fill="#0f2a6c"/>
<circle cx="270.1" cy="350.4" r="1.25" fill="#0f2a6c"/>
<circle cx="270.1" cy="351.7" r="1.25" fill="#0f2a6c"/>
<circle cx="260.9" cy="353.5" r="1.25" fill="#0f2a6c"/>
<circle cx="265.2" cy="352.7" r="1.25" fill="#0f2a6c"/>
<circle cx="270.1" cy="353.2" r="1.25" fill="#0f2a6c"/>
<circle cx="274.6" cy="352.7" r="1.25" fill="#0f2a6c"/>
<circle cx="283.4" cy="353.1" r="1.25" fill="#0f2a6c"/>
<circle cx="279" cy="354.9" r="1.25" fill="#0f2a6c"/>
<rect x="299.4" y="292.4" width="2.6" height="2.6" fill="#a80a25"/>
<rect x="299.4" y="303.4" width="2.6" height="2.6" fill="#a80a25"/>
<rect x="299.4" y="310.59999999999997" width="2.6" height="2.6" fill="#a80a25"/>
<rect x="299.5" y="319.3" width="2.6" height="2.6" fill="#a80a25"/>
<rect x="296.9" y="328.7" width="2.6" height="2.6" fill="#a80a25"/>
<rect x="302.09999999999997" y="330.7" width="2.6" height="2.6" fill="#a80a25"/>
<rect x="296.9" y="332.9" width="2.6" height="2.6" fill="#a80a25"/>
<rect x="291.3" y="334.2" width="2.6" height="2.6" fill="#a80a25"/>
<rect x="307.4" y="335.9" width="2.6" height="2.6" fill="#a80a25"/>
<rect x="291.3" y="337.8" width="2.6" height="2.6" fill="#a80a25"/>
<rect x="296.9" y="337.8" width="2.6" height="2.6" fill="#a80a25"/>
<rect x="302.09999999999997" y="338.09999999999997" width="2.6" height="2.6" fill="#a80a25"/>
<rect x="296.9" y="340.5" width="2.6" height="2.6" fill="#a80a25"/>
<rect x="307.4" y="342.2" width="2.6" height="2.6" fill="#a80a25"/>
<rect x="302.09999999999997" y="343.4" width="2.6" height="2.6" fill="#a80a25"/>
<rect x="296.9" y="345.0" width="2.6" height="2.6" fill="#a80a25"/>
<rect x="307.4" y="345.4" width="2.6" height="2.6" fill="#a80a25"/>
<rect x="302.09999999999997" y="347.3" width="2.6" height="2.6" fill="#a80a25"/>
<rect x="296.9" y="348.9" width="2.6" height="2.6" fill="#a80a25"/>
<rect x="307.4" y="349.3" width="2.6" height="2.6" fill="#a80a25"/>
<rect x="299.59999999999997" y="352.5" width="2.6" height="2.6" fill="#a80a25"/>
<line x1="259.6" y1="342.6" x2="284.9" y2="342.6" stroke="#000" stroke-width="1.0"/>
<line x1="288.1" y1="339.3" x2="313.2" y2="339.3" stroke="#000" stroke-width="1.0"/>
<line x1="344.0" y1="286.5" x2="344.0" y2="356.6" stroke="#000" stroke-width="1.1"/>
<line x1="341.0" y1="356.1" x2="411" y2="356.1" stroke="#000" stroke-width="1.1"/>
<line x1="341.0" y1="356.1" x2="344.0" y2="356.1" stroke="#000" stroke-width="1.1"/>
<text x="338.3" y="358.92" font-size="8.2" text-anchor="end">0</text>
<line x1="341.0" y1="339.45000000000005" x2="344.0" y2="339.45000000000005" stroke="#000" stroke-width="1.1"/>
<text x="338.3" y="342.27000000000004" font-size="8.2" text-anchor="end">5</text>
<line x1="341.0" y1="322.8" x2="344.0" y2="322.8" stroke="#000" stroke-width="1.1"/>
<text x="338.3" y="325.62" font-size="8.2" text-anchor="end">10</text>
<line x1="341.0" y1="306.15" x2="344.0" y2="306.15" stroke="#000" stroke-width="1.1"/>
<text x="338.3" y="308.96999999999997" font-size="8.2" text-anchor="end">15</text>
<line x1="341.0" y1="289.5" x2="344.0" y2="289.5" stroke="#000" stroke-width="1.1"/>
<text x="338.3" y="292.32" font-size="8.2" text-anchor="end">20</text>
<line x1="363.4" y1="356.1" x2="363.4" y2="359.1" stroke="#000" stroke-width="1.1"/>
<line x1="392.3" y1="356.1" x2="392.3" y2="359.1" stroke="#000" stroke-width="1.1"/>
<text x="363.79999999999995" y="369.40000000000003" font-size="8" text-anchor="middle">No</text>
<text x="363.79999999999995" y="379.5" font-size="8" text-anchor="middle" textLength="23.1" lengthAdjust="spacingAndGlyphs">GVHD</text>
<text x="392.3" y="369.40000000000003" font-size="8" text-anchor="middle" textLength="23.1" lengthAdjust="spacingAndGlyphs">GVHD</text>
<line x1="363.3" y1="288.2" x2="395.6" y2="288.2" stroke="#000" stroke-width="1.1"/>
<line x1="363.3" y1="286.9" x2="363.3" y2="289.5" stroke="#000" stroke-width="1"/>
<line x1="395.6" y1="286.9" x2="395.6" y2="289.5" stroke="#000" stroke-width="1"/>
<text x="367.2" y="284.9" font-size="7.4" textLength="24.5" lengthAdjust="spacingAndGlyphs">0.0139</text>

<circle cx="363.8" cy="303" r="1.25" fill="#0f2a6c"/>
<circle cx="363.8" cy="310.9" r="1.25" fill="#0f2a6c"/>
<circle cx="363.8" cy="322.5" r="1.25" fill="#0f2a6c"/>
<circle cx="363.8" cy="335.9" r="1.25" fill="#0f2a6c"/>
<circle cx="365.1" cy="341.2" r="1.25" fill="#0f2a6c"/>
<circle cx="366.9" cy="341.4" r="1.25" fill="#0f2a6c"/>
<circle cx="358.6" cy="343.6" r="1.25" fill="#0f2a6c"/>
<circle cx="362.6" cy="343.1" r="1.25" fill="#0f2a6c"/>
<circle cx="356.5" cy="347" r="1.25" fill="#0f2a6c"/>
<circle cx="360.1" cy="346.5" r="1.25" fill="#0f2a6c"/>
<circle cx="362.6" cy="345.5" r="1.25" fill="#0f2a6c"/>
<circle cx="369.1" cy="345.5" r="1.25" fill="#0f2a6c"/>
<circle cx="370.9" cy="345.2" r="1.25" fill="#0f2a6c"/>
<circle cx="352.5" cy="350.2" r="1.25" fill="#0f2a6c"/>
<circle cx="354.7" cy="350.9" r="1.25" fill="#0f2a6c"/>
<circle cx="356.5" cy="349.5" r="1.25" fill="#0f2a6c"/>
<circle cx="358.6" cy="351.7" r="1.25" fill="#0f2a6c"/>
<circle cx="360.4" cy="350.9" r="1.25" fill="#0f2a6c"/>
<circle cx="362.6" cy="350.2" r="1.25" fill="#0f2a6c"/>
<circle cx="365.1" cy="351.7" r="1.25" fill="#0f2a6c"/>
<circle cx="366.9" cy="348.1" r="1.25" fill="#0f2a6c"/>
<circle cx="369.1" cy="350.2" r="1.25" fill="#0f2a6c"/>
<circle cx="370.9" cy="348.8" r="1.25" fill="#0f2a6c"/>
<circle cx="373.1" cy="350.9" r="1.25" fill="#0f2a6c"/>
<circle cx="374.9" cy="350.6" r="1.25" fill="#0f2a6c"/>
<circle cx="354.7" cy="353.5" r="1.25" fill="#0f2a6c"/>
<circle cx="358.6" cy="352.5" r="1.25" fill="#0f2a6c"/>
<circle cx="362.6" cy="353.8" r="1.25" fill="#0f2a6c"/>
<circle cx="366.9" cy="353.5" r="1.25" fill="#0f2a6c"/>
<circle cx="370.9" cy="353.8" r="1.25" fill="#0f2a6c"/>
<circle cx="364.8" cy="352" r="1.25" fill="#0f2a6c"/>
<rect x="391.0" y="328.4" width="2.6" height="2.6" fill="#a80a25"/>
<rect x="391.0" y="334.59999999999997" width="2.6" height="2.6" fill="#a80a25"/>
<rect x="388.3" y="344.5" width="2.6" height="2.6" fill="#a80a25"/>
<rect x="390.8" y="344.5" width="2.6" height="2.6" fill="#a80a25"/>
<rect x="393.3" y="344.5" width="2.6" height="2.6" fill="#a80a25"/>
<rect x="384.59999999999997" y="347.09999999999997" width="2.6" height="2.6" fill="#a80a25"/>
<rect x="387.09999999999997" y="349.3" width="2.6" height="2.6" fill="#a80a25"/>
<rect x="389.5" y="348.59999999999997" width="2.6" height="2.6" fill="#a80a25"/>
<rect x="397.0" y="349.4" width="2.6" height="2.6" fill="#a80a25"/>
<rect x="379.7" y="351.9" width="2.6" height="2.6" fill="#a80a25"/>
<rect x="382.7" y="351.9" width="2.6" height="2.6" fill="#a80a25"/>
<rect x="385.7" y="351.9" width="2.6" height="2.6" fill="#a80a25"/>
<rect x="388.7" y="351.9" width="2.6" height="2.6" fill="#a80a25"/>
<rect x="391.7" y="351.9" width="2.6" height="2.6" fill="#a80a25"/>
<rect x="394.7" y="351.9" width="2.6" height="2.6" fill="#a80a25"/>
<rect x="397.7" y="351.9" width="2.6" height="2.6" fill="#a80a25"/>
<rect x="400.7" y="351.9" width="2.6" height="2.6" fill="#a80a25"/>
<rect x="403.2" y="351.9" width="2.6" height="2.6" fill="#a80a25"/>
<rect x="381.2" y="353.5" width="2.6" height="2.6" fill="#a80a25"/>
<rect x="387.2" y="353.5" width="2.6" height="2.6" fill="#a80a25"/>
<rect x="393.2" y="353.5" width="2.6" height="2.6" fill="#a80a25"/>
<rect x="399.2" y="353.5" width="2.6" height="2.6" fill="#a80a25"/>
<line x1="351.1" y1="349.5" x2="376.3" y2="349.5" stroke="#000" stroke-width="1.0"/>
<line x1="379.7" y1="352.6" x2="404.9" y2="352.6" stroke="#000" stroke-width="1.0"/>
<line x1="445.6" y1="286.5" x2="445.6" y2="356.6" stroke="#000" stroke-width="1.1"/>
<line x1="442.6" y1="356.1" x2="512.2" y2="356.1" stroke="#000" stroke-width="1.1"/>
<line x1="442.6" y1="356.1" x2="445.6" y2="356.1" stroke="#000" stroke-width="1.1"/>
<text x="439.90000000000003" y="358.92" font-size="8.2" text-anchor="end">0.1</text>
<line x1="442.6" y1="339.45000000000005" x2="445.6" y2="339.45000000000005" stroke="#000" stroke-width="1.1"/>
<text x="439.90000000000003" y="342.27000000000004" font-size="8.2" text-anchor="end">1</text>
<line x1="442.6" y1="322.8" x2="445.6" y2="322.8" stroke="#000" stroke-width="1.1"/>
<text x="439.90000000000003" y="325.62" font-size="8.2" text-anchor="end">10</text>
<line x1="442.6" y1="306.15" x2="445.6" y2="306.15" stroke="#000" stroke-width="1.1"/>
<text x="439.90000000000003" y="308.96999999999997" font-size="8.2" text-anchor="end">100</text>
<line x1="442.6" y1="289.5" x2="445.6" y2="289.5" stroke="#000" stroke-width="1.1"/>
<text x="439.90000000000003" y="292.32" font-size="8.2" text-anchor="end">1000</text>
<line x1="443.8" y1="351.0878505721947" x2="445.6" y2="351.0878505721947" stroke="#000" stroke-width="0.8"/>
<line x1="443.8" y1="348.1559311089176" x2="445.6" y2="348.1559311089176" stroke="#000" stroke-width="0.8"/>
<line x1="443.8" y1="346.0757011443894" x2="445.6" y2="346.0757011443894" stroke="#000" stroke-width="0.8"/>
<line x1="443.8" y1="344.4621494278053" x2="445.6" y2="344.4621494278053" stroke="#000" stroke-width="0.8"/>
<line x1="443.8" y1="343.14378168111233" x2="445.6" y2="343.14378168111233" stroke="#000" stroke-width="0.8"/>
<line x1="443.8" y1="342.02911763376267" x2="445.6" y2="342.02911763376267" stroke="#000" stroke-width="0.8"/>
<line x1="443.8" y1="341.06355171658413" x2="445.6" y2="341.06355171658413" stroke="#000" stroke-width="0.8"/>
<line x1="443.8" y1="340.21186221783523" x2="445.6" y2="340.21186221783523" stroke="#000" stroke-width="0.8"/>
<line x1="443.8" y1="334.43785057219475" x2="445.6" y2="334.43785057219475" stroke="#000" stroke-width="0.8"/>
<line x1="443.8" y1="331.50593110891765" x2="445.6" y2="331.50593110891765" stroke="#000" stroke-width="0.8"/>
<line x1="443.8" y1="329.42570114438945" x2="445.6" y2="329.42570114438945" stroke="#000" stroke-width="0.8"/>
<line x1="443.8" y1="327.8121494278053" x2="445.6" y2="327.8121494278053" stroke="#000" stroke-width="0.8"/>
<line x1="443.8" y1="326.49378168111235" x2="445.6" y2="326.49378168111235" stroke="#000" stroke-width="0.8"/>
<line x1="443.8" y1="325.3791176337627" x2="445.6" y2="325.3791176337627" stroke="#000" stroke-width="0.8"/>
<line x1="443.8" y1="324.41355171658415" x2="445.6" y2="324.41355171658415" stroke="#000" stroke-width="0.8"/>
<line x1="443.8" y1="323.56186221783526" x2="445.6" y2="323.56186221783526" stroke="#000" stroke-width="0.8"/>
<line x1="443.8" y1="317.7878505721947" x2="445.6" y2="317.7878505721947" stroke="#000" stroke-width="0.8"/>
<line x1="443.8" y1="314.8559311089176" x2="445.6" y2="314.8559311089176" stroke="#000" stroke-width="0.8"/>
<line x1="443.8" y1="312.7757011443894" x2="445.6" y2="312.7757011443894" stroke="#000" stroke-width="0.8"/>
<line x1="443.8" y1="311.1621494278053" x2="445.6" y2="311.1621494278053" stroke="#000" stroke-width="0.8"/>
<line x1="443.8" y1="309.8437816811123" x2="445.6" y2="309.8437816811123" stroke="#000" stroke-width="0.8"/>
<line x1="443.8" y1="308.72911763376266" x2="445.6" y2="308.72911763376266" stroke="#000" stroke-width="0.8"/>
<line x1="443.8" y1="307.7635517165842" x2="445.6" y2="307.7635517165842" stroke="#000" stroke-width="0.8"/>
<line x1="443.8" y1="306.9118622178352" x2="445.6" y2="306.9118622178352" stroke="#000" stroke-width="0.8"/>
<line x1="443.8" y1="301.1378505721947" x2="445.6" y2="301.1378505721947" stroke="#000" stroke-width="0.8"/>
<line x1="443.8" y1="298.2059311089176" x2="445.6" y2="298.2059311089176" stroke="#000" stroke-width="0.8"/>
<line x1="443.8" y1="296.1257011443894" x2="445.6" y2="296.1257011443894" stroke="#000" stroke-width="0.8"/>
<line x1="443.8" y1="294.51214942780524" x2="445.6" y2="294.51214942780524" stroke="#000" stroke-width="0.8"/>
<line x1="443.8" y1="293.1937816811123" x2="445.6" y2="293.1937816811123" stroke="#000" stroke-width="0.8"/>
<line x1="443.8" y1="292.0791176337626" x2="445.6" y2="292.0791176337626" stroke="#000" stroke-width="0.8"/>
<line x1="443.8" y1="291.1135517165841" x2="445.6" y2="291.1135517165841" stroke="#000" stroke-width="0.8"/>
<line x1="443.8" y1="290.2618622178352" x2="445.6" y2="290.2618622178352" stroke="#000" stroke-width="0.8"/>
<line x1="465" y1="356.1" x2="465" y2="359.1" stroke="#000" stroke-width="1.1"/>
<line x1="494" y1="356.1" x2="494" y2="359.1" stroke="#000" stroke-width="1.1"/>
<text x="465.4" y="369.40000000000003" font-size="8" text-anchor="middle">No</text>
<text x="465.4" y="379.5" font-size="8" text-anchor="middle" textLength="23.1" lengthAdjust="spacingAndGlyphs">GVHD</text>
<text x="494" y="369.40000000000003" font-size="8" text-anchor="middle" textLength="23.1" lengthAdjust="spacingAndGlyphs">GVHD</text>
<line x1="465.0" y1="290.1" x2="495.2" y2="290.1" stroke="#000" stroke-width="1.1"/>
<line x1="465.0" y1="288.8" x2="465.0" y2="291.40000000000003" stroke="#000" stroke-width="1"/>
<line x1="495.2" y1="288.8" x2="495.2" y2="291.40000000000003" stroke="#000" stroke-width="1"/>
<text x="467.8" y="286.8" font-size="7.4" textLength="24.1" lengthAdjust="spacingAndGlyphs">0.2452</text>

<circle cx="469.8" cy="325.2" r="1.25" fill="#0f2a6c"/>
<circle cx="467.5" cy="326.8" r="1.25" fill="#0f2a6c"/>
<circle cx="465.2" cy="325.9" r="1.25" fill="#0f2a6c"/>
<circle cx="462.8" cy="325.9" r="1.25" fill="#0f2a6c"/>
<circle cx="459.6" cy="326.8" r="1.25" fill="#0f2a6c"/>
<circle cx="461" cy="329.6" r="1.25" fill="#0f2a6c"/>
<circle cx="458.2" cy="331" r="1.25" fill="#0f2a6c"/>
<circle cx="463.3" cy="331.5" r="1.25" fill="#0f2a6c"/>
<circle cx="468.4" cy="331.9" r="1.25" fill="#0f2a6c"/>
<circle cx="471.2" cy="331.3" r="1.25" fill="#0f2a6c"/>
<circle cx="455.9" cy="332.9" r="1.25" fill="#0f2a6c"/>
<circle cx="459.6" cy="333.8" r="1.25" fill="#0f2a6c"/>
<circle cx="462.4" cy="333.8" r="1.25" fill="#0f2a6c"/>
<circle cx="465.6" cy="334.3" r="1.25" fill="#0f2a6c"/>
<circle cx="455.9" cy="335.7" r="1.25" fill="#0f2a6c"/>
<circle cx="473" cy="334.7" r="1.25" fill="#0f2a6c"/>
<circle cx="453.6" cy="338.4" r="1.25" fill="#0f2a6c"/>
<circle cx="458.2" cy="338.4" r="1.25" fill="#0f2a6c"/>
<circle cx="461" cy="337" r="1.25" fill="#0f2a6c"/>
<circle cx="463.8" cy="338" r="1.25" fill="#0f2a6c"/>
<circle cx="466.6" cy="337" r="1.25" fill="#0f2a6c"/>
<circle cx="469.3" cy="337" r="1.25" fill="#0f2a6c"/>
<circle cx="472.1" cy="336.6" r="1.25" fill="#0f2a6c"/>
<circle cx="474.9" cy="337.5" r="1.25" fill="#0f2a6c"/>
<circle cx="476.8" cy="338" r="1.25" fill="#0f2a6c"/>
<circle cx="461" cy="340.1" r="1.25" fill="#0f2a6c"/>
<circle cx="463.6" cy="338.7" r="1.25" fill="#0f2a6c"/>
<circle cx="466.1" cy="338.6" r="1.25" fill="#0f2a6c"/>
<circle cx="468.8" cy="339.9" r="1.25" fill="#0f2a6c"/>
<circle cx="471.3" cy="339.9" r="1.25" fill="#0f2a6c"/>
<circle cx="466.1" cy="342" r="1.25" fill="#0f2a6c"/>
<circle cx="468.8" cy="342.8" r="1.25" fill="#0f2a6c"/>
<circle cx="463.4" cy="343.8" r="1.25" fill="#0f2a6c"/>
<circle cx="466.1" cy="345.7" r="1.25" fill="#0f2a6c"/>
<circle cx="464.9" cy="348.9" r="1.25" fill="#0f2a6c"/>
<rect x="484.5" y="326.8" width="2.6" height="2.6" fill="#a80a25"/>
<rect x="488.2" y="329.0" width="2.6" height="2.6" fill="#a80a25"/>
<rect x="492.0" y="327.59999999999997" width="2.6" height="2.6" fill="#a80a25"/>
<rect x="495.8" y="329.3" width="2.6" height="2.6" fill="#a80a25"/>
<rect x="488.2" y="332.7" width="2.6" height="2.6" fill="#a80a25"/>
<rect x="492.0" y="330.2" width="2.6" height="2.6" fill="#a80a25"/>
<rect x="492.0" y="332.3" width="2.6" height="2.6" fill="#a80a25"/>
<rect x="492.0" y="334.0" width="2.6" height="2.6" fill="#a80a25"/>
<rect x="495.8" y="333.7" width="2.6" height="2.6" fill="#a80a25"/>
<rect x="480.7" y="336.0" width="2.6" height="2.6" fill="#a80a25"/>
<rect x="484.5" y="336.4" width="2.6" height="2.6" fill="#a80a25"/>
<rect x="488.2" y="338.09999999999997" width="2.6" height="2.6" fill="#a80a25"/>
<rect x="492.0" y="336.4" width="2.6" height="2.6" fill="#a80a25"/>
<rect x="495.8" y="336.4" width="2.6" height="2.6" fill="#a80a25"/>
<rect x="499.59999999999997" y="338.09999999999997" width="2.6" height="2.6" fill="#a80a25"/>
<rect x="503.5" y="337.8" width="2.6" height="2.6" fill="#a80a25"/>
<rect x="480.7" y="339.3" width="2.6" height="2.6" fill="#a80a25"/>
<rect x="492.0" y="340.3" width="2.6" height="2.6" fill="#a80a25"/>
<rect x="495.8" y="339.3" width="2.6" height="2.6" fill="#a80a25"/>
<rect x="488.2" y="344.9" width="2.6" height="2.6" fill="#a80a25"/>
<rect x="492.0" y="343.4" width="2.6" height="2.6" fill="#a80a25"/>
<rect x="495.8" y="343.4" width="2.6" height="2.6" fill="#a80a25"/>
<line x1="452.2" y1="335.2" x2="477.7" y2="335.2" stroke="#000" stroke-width="1.0"/>
<line x1="480.9" y1="337.7" x2="505.6" y2="337.7" stroke="#000" stroke-width="1.0"/>
<text x="6.0" y="16.8" font-size="11.5" font-weight="bold" style="stroke-width:0.5px">A</text>
<text x="6.2" y="152.8" font-size="11.5" font-weight="bold" style="stroke-width:0.5px">B</text>
<text x="5.9" y="213.5" font-size="10" textLength="20.4" lengthAdjust="spacingAndGlyphs">CD4</text>
<text x="5.9" y="324.6" font-size="10" textLength="20.4" lengthAdjust="spacingAndGlyphs">CD8</text>
</svg></div></body></html>
